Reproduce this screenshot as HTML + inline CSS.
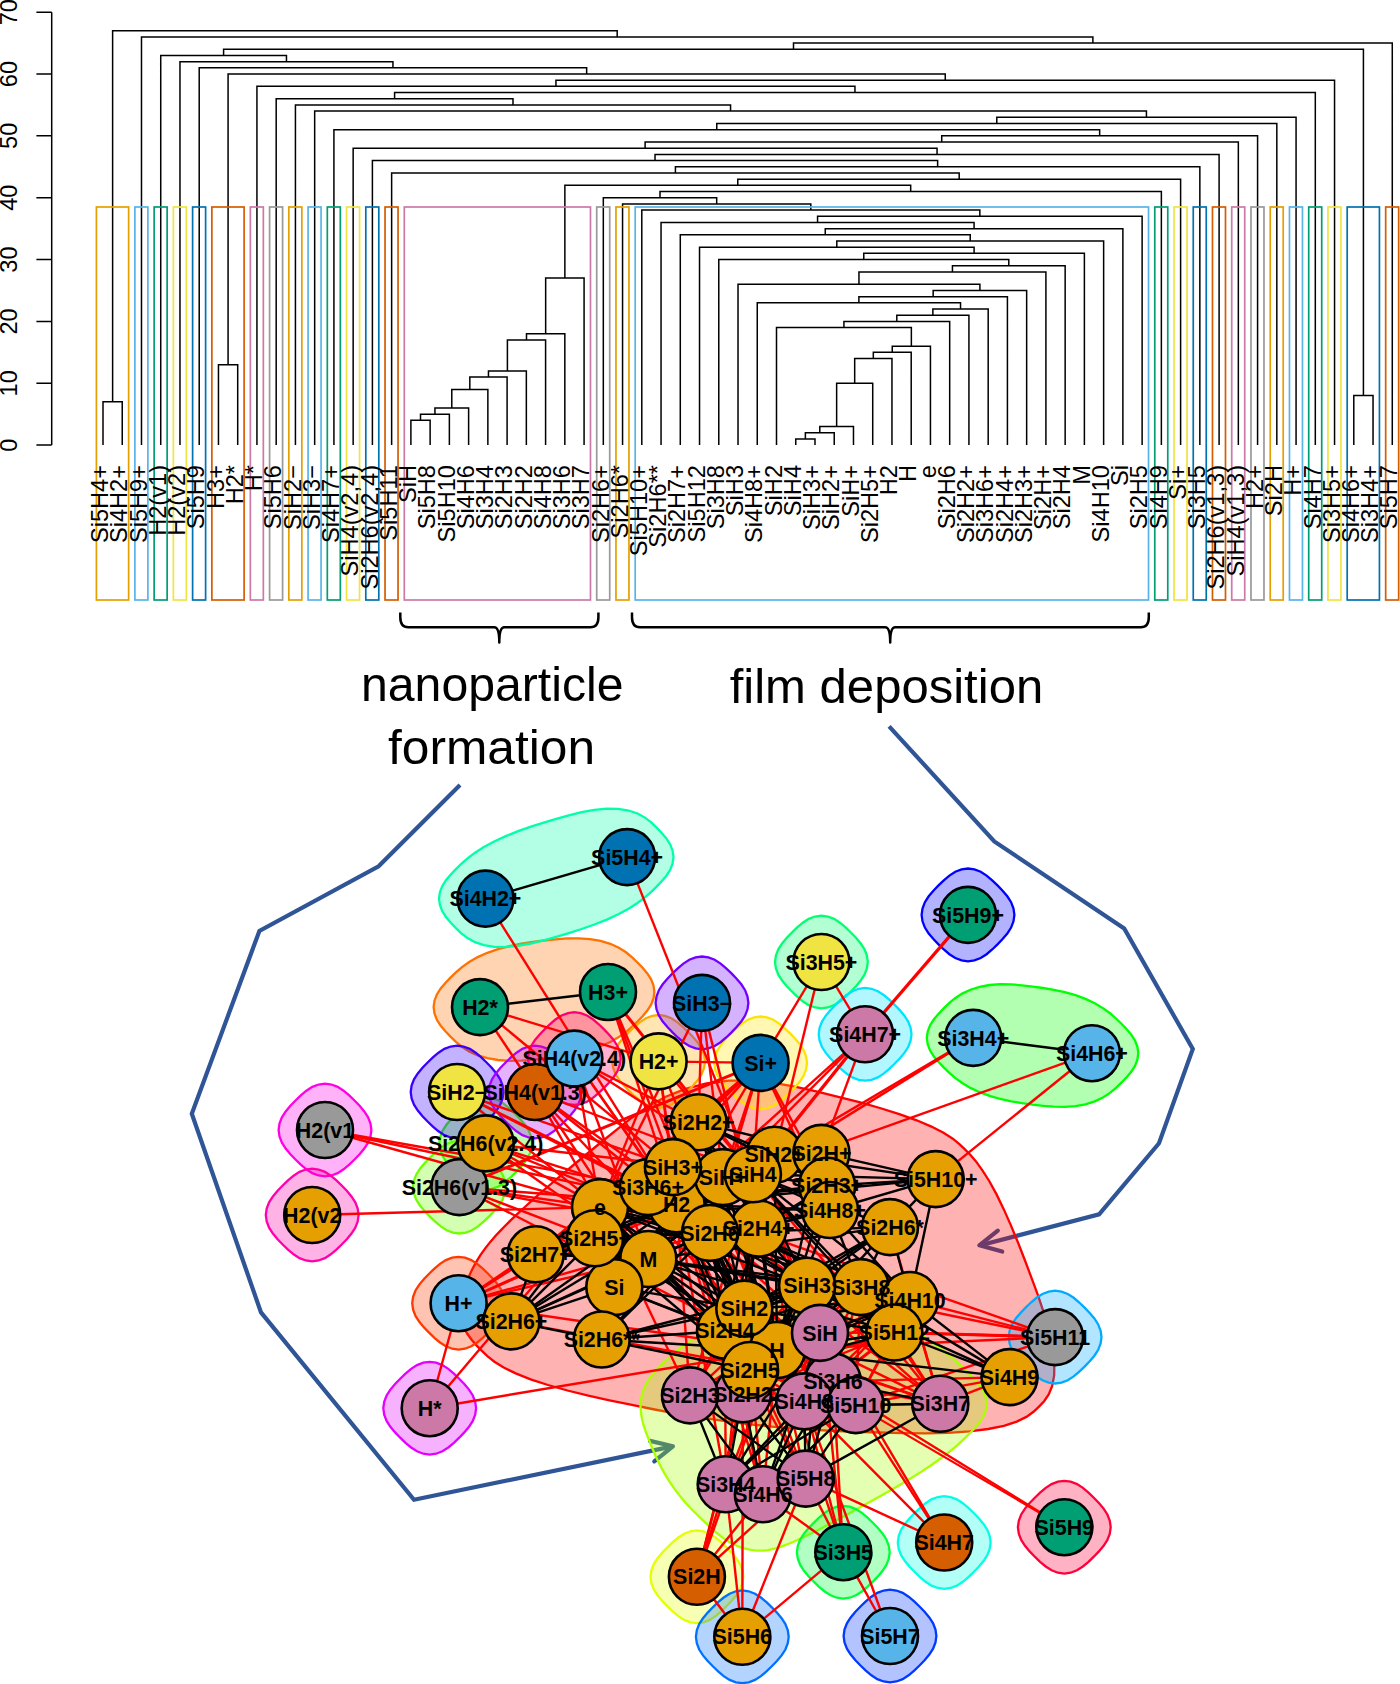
<!DOCTYPE html>
<html><head><meta charset="utf-8"><title>Figure</title>
<style>html,body{margin:0;padding:0;background:#fff}svg{display:block}</style></head>
<body>
<svg width="1400" height="1684" viewBox="0 0 1400 1684">
<rect width="1400" height="1684" fill="#fff"/>
<g fill="none" stroke="#000" stroke-width="1.5" stroke-linejoin="miter" stroke-linecap="butt">
<path d="M103.00 445.10V401.81H122.24V445.10M218.46 445.10V364.70H237.70V445.10M410.89 445.10V420.36H430.13V445.10M420.51 420.36V414.18H449.37V445.10M434.94 414.18V407.99H468.62V445.10M451.78 407.99V389.44H487.86V445.10M469.82 389.44V377.07H507.10V445.10M488.46 377.07V370.88H526.35V445.10M507.40 370.88V339.96H545.59V445.10M526.50 339.96V333.77H564.83V445.10M545.66 333.77V278.11H584.08V445.10M795.75 445.10V438.92H814.99V445.10M805.37 438.92V432.73H834.23V445.10M819.80 432.73V426.55H853.48V445.10M836.64 426.55V383.25H872.72V445.10M854.68 383.25V358.51H891.96V445.10M873.32 358.51V352.33H911.21V445.10M892.26 352.33V346.14H930.45V445.10M776.50 445.10V327.59H911.36V346.14M843.93 327.59V321.40H949.69V445.10M896.81 321.40V315.22H968.93V445.10M932.87 315.22V309.03H988.18V445.10M757.26 445.10V302.85H960.53V309.03M858.89 302.85V296.66H1007.42V445.10M933.16 296.66V290.48H1026.66V445.10M738.02 445.10V284.29H979.91V290.48M858.96 284.29V271.92H1045.91V445.10M952.44 271.92V265.74H1065.15V445.10M718.78 445.10V259.55H1008.79V265.74M863.78 259.55V253.37H1084.39V445.10M699.53 445.10V247.18H974.09V253.37M836.81 247.18V241.00H1103.64V445.10M680.29 445.10V234.81H970.22V241.00M825.26 234.81V228.63H1122.88V445.10M661.05 445.10V222.44H974.07V228.63M817.56 222.44V216.26H1142.12V445.10M641.80 445.10V210.07H979.84V216.26M622.56 445.10V203.89H810.82V210.07M603.32 445.10V197.70H716.69V203.89M660.00 197.70V191.52H1161.37V445.10M564.87 278.11V185.33H910.68V191.52M737.78 185.33V179.15H1180.61V445.10M391.64 445.10V172.96H959.19V179.15M675.42 172.96V166.78H1199.85V445.10M372.40 445.10V160.59H937.63V166.78M655.02 160.59V154.41H1219.09V445.10M353.16 445.10V148.22H937.06V154.41M645.11 148.22V142.04H1238.34V445.10M941.72 142.04V135.85H1257.58V445.10M333.92 445.10V129.67H1099.65V135.85M716.78 129.67V123.48H1276.82V445.10M996.80 123.48V117.30H1296.07V445.10M314.67 445.10V111.11H1146.43V117.30M295.43 445.10V104.93H730.55V111.11M276.19 445.10V98.74H512.99V104.93M394.59 98.74V92.56H1315.31V445.10M256.94 445.10V86.37H854.95V92.56M555.95 86.37V80.19H1334.55V445.10M228.08 364.70V74.00H945.25V80.19M199.21 445.10V67.82H586.66V74.00M179.97 445.10V61.63H392.94V67.82M160.73 445.10V55.45H286.46V61.63M1353.79 445.10V395.62H1373.04V445.10M223.59 55.45V49.26H1363.42V395.62M793.50 49.26V43.08H1392.28V445.10M141.49 445.10V36.89H1092.89V43.08M112.62 401.81V30.71H617.19V36.89"/>
<path d="M51.70 445.10V12.15M51.70 445.10H36.40M51.70 383.25H36.40M51.70 321.40H36.40M51.70 259.55H36.40M51.70 197.70H36.40M51.70 135.85H36.40M51.70 74.00H36.40M51.70 12.15H36.40"/>
</g>
<g fill="none" stroke-width="1.7">
<rect x="96.40" y="207.00" width="32.24" height="393.00" stroke="#E69F00"/>
<rect x="134.89" y="207.00" width="13.00" height="393.00" stroke="#56B4E9"/>
<rect x="154.13" y="207.00" width="13.00" height="393.00" stroke="#009E73"/>
<rect x="173.37" y="207.00" width="13.00" height="393.00" stroke="#F0E442"/>
<rect x="192.61" y="207.00" width="13.00" height="393.00" stroke="#0072B2"/>
<rect x="211.86" y="207.00" width="32.24" height="393.00" stroke="#D55E00"/>
<rect x="250.34" y="207.00" width="13.00" height="393.00" stroke="#CC79A7"/>
<rect x="269.59" y="207.00" width="13.00" height="393.00" stroke="#999999"/>
<rect x="288.83" y="207.00" width="13.00" height="393.00" stroke="#E69F00"/>
<rect x="308.07" y="207.00" width="13.00" height="393.00" stroke="#56B4E9"/>
<rect x="327.32" y="207.00" width="13.00" height="393.00" stroke="#009E73"/>
<rect x="346.56" y="207.00" width="13.00" height="393.00" stroke="#F0E442"/>
<rect x="365.80" y="207.00" width="13.00" height="393.00" stroke="#0072B2"/>
<rect x="385.04" y="207.00" width="13.00" height="393.00" stroke="#D55E00"/>
<rect x="404.29" y="207.00" width="186.19" height="393.00" stroke="#CC79A7"/>
<rect x="596.72" y="207.00" width="13.00" height="393.00" stroke="#999999"/>
<rect x="615.96" y="207.00" width="13.00" height="393.00" stroke="#E69F00"/>
<rect x="635.20" y="207.00" width="513.32" height="393.00" stroke="#56B4E9"/>
<rect x="1154.77" y="207.00" width="13.00" height="393.00" stroke="#009E73"/>
<rect x="1174.01" y="207.00" width="13.00" height="393.00" stroke="#F0E442"/>
<rect x="1193.25" y="207.00" width="13.00" height="393.00" stroke="#0072B2"/>
<rect x="1212.49" y="207.00" width="13.00" height="393.00" stroke="#D55E00"/>
<rect x="1231.74" y="207.00" width="13.00" height="393.00" stroke="#CC79A7"/>
<rect x="1250.98" y="207.00" width="13.00" height="393.00" stroke="#999999"/>
<rect x="1270.22" y="207.00" width="13.00" height="393.00" stroke="#E69F00"/>
<rect x="1289.47" y="207.00" width="13.00" height="393.00" stroke="#56B4E9"/>
<rect x="1308.71" y="207.00" width="13.00" height="393.00" stroke="#009E73"/>
<rect x="1327.95" y="207.00" width="13.00" height="393.00" stroke="#F0E442"/>
<rect x="1347.19" y="207.00" width="32.24" height="393.00" stroke="#0072B2"/>
<rect x="1385.68" y="207.00" width="13.00" height="393.00" stroke="#D55E00"/>
</g>
<g font-family="'Liberation Sans', sans-serif" font-size="23.6" fill="#000" text-anchor="end">
<text transform="translate(108.20 465.00) rotate(-90)">Si5H4+</text>
<text transform="translate(127.44 465.00) rotate(-90)">Si4H2+</text>
<text transform="translate(146.69 465.00) rotate(-90)">Si5H9+</text>
<text transform="translate(165.93 465.00) rotate(-90)">H2(v1)</text>
<text transform="translate(185.17 465.00) rotate(-90)">H2(v2)</text>
<text transform="translate(204.41 465.00) rotate(-90)">Si5H9</text>
<text transform="translate(223.66 465.00) rotate(-90)">H3+</text>
<text transform="translate(242.90 465.00) rotate(-90)">H2*</text>
<text transform="translate(262.14 465.00) rotate(-90)">H*</text>
<text transform="translate(281.39 465.00) rotate(-90)">Si5H6</text>
<text transform="translate(300.63 465.00) rotate(-90)">SiH2−</text>
<text transform="translate(319.87 465.00) rotate(-90)">SiH3−</text>
<text transform="translate(339.12 465.00) rotate(-90)">Si4H7+</text>
<text transform="translate(358.36 465.00) rotate(-90)">SiH4(v2,4)</text>
<text transform="translate(377.60 465.00) rotate(-90)">Si2H6(v2,4)</text>
<text transform="translate(396.84 465.00) rotate(-90)">Si5H11</text>
<text transform="translate(416.09 465.00) rotate(-90)">SiH</text>
<text transform="translate(435.33 465.00) rotate(-90)">Si5H8</text>
<text transform="translate(454.57 465.00) rotate(-90)">Si5H10</text>
<text transform="translate(473.82 465.00) rotate(-90)">Si4H6</text>
<text transform="translate(493.06 465.00) rotate(-90)">Si3H4</text>
<text transform="translate(512.30 465.00) rotate(-90)">Si2H3</text>
<text transform="translate(531.55 465.00) rotate(-90)">Si2H2</text>
<text transform="translate(550.79 465.00) rotate(-90)">Si4H8</text>
<text transform="translate(570.03 465.00) rotate(-90)">Si3H6</text>
<text transform="translate(589.28 465.00) rotate(-90)">Si3H7</text>
<text transform="translate(608.52 465.00) rotate(-90)">Si2H6+</text>
<text transform="translate(627.76 465.00) rotate(-90)">Si2H6*</text>
<text transform="translate(647.00 465.00) rotate(-90)">Si5H10+</text>
<text transform="translate(666.25 465.00) rotate(-90)">Si2H6**</text>
<text transform="translate(685.49 465.00) rotate(-90)">Si2H7+</text>
<text transform="translate(704.73 465.00) rotate(-90)">Si5H12</text>
<text transform="translate(723.98 465.00) rotate(-90)">Si3H8</text>
<text transform="translate(743.22 465.00) rotate(-90)">SiH3</text>
<text transform="translate(762.46 465.00) rotate(-90)">Si4H8+</text>
<text transform="translate(781.71 465.00) rotate(-90)">SiH2</text>
<text transform="translate(800.95 465.00) rotate(-90)">SiH4</text>
<text transform="translate(820.19 465.00) rotate(-90)">SiH3+</text>
<text transform="translate(839.43 465.00) rotate(-90)">SiH2+</text>
<text transform="translate(858.68 465.00) rotate(-90)">SiH+</text>
<text transform="translate(877.92 465.00) rotate(-90)">Si2H5+</text>
<text transform="translate(897.16 465.00) rotate(-90)">H2</text>
<text transform="translate(916.41 465.00) rotate(-90)">H</text>
<text transform="translate(935.65 465.00) rotate(-90)">e</text>
<text transform="translate(954.89 465.00) rotate(-90)">Si2H6</text>
<text transform="translate(974.13 465.00) rotate(-90)">Si2H2+</text>
<text transform="translate(993.38 465.00) rotate(-90)">Si3H6+</text>
<text transform="translate(1012.62 465.00) rotate(-90)">Si2H4+</text>
<text transform="translate(1031.86 465.00) rotate(-90)">Si2H3+</text>
<text transform="translate(1051.11 465.00) rotate(-90)">Si2H+</text>
<text transform="translate(1070.35 465.00) rotate(-90)">Si2H4</text>
<text transform="translate(1089.59 465.00) rotate(-90)">M</text>
<text transform="translate(1108.84 465.00) rotate(-90)">Si4H10</text>
<text transform="translate(1128.08 465.00) rotate(-90)">Si</text>
<text transform="translate(1147.32 465.00) rotate(-90)">Si2H5</text>
<text transform="translate(1166.57 465.00) rotate(-90)">Si4H9</text>
<text transform="translate(1185.81 465.00) rotate(-90)">Si+</text>
<text transform="translate(1205.05 465.00) rotate(-90)">Si3H5</text>
<text transform="translate(1224.29 465.00) rotate(-90)">Si2H6(v1,3)</text>
<text transform="translate(1243.54 465.00) rotate(-90)">SiH4(v1,3)</text>
<text transform="translate(1262.78 465.00) rotate(-90)">H2+</text>
<text transform="translate(1282.02 465.00) rotate(-90)">Si2H</text>
<text transform="translate(1301.27 465.00) rotate(-90)">H+</text>
<text transform="translate(1320.51 465.00) rotate(-90)">Si4H7</text>
<text transform="translate(1339.75 465.00) rotate(-90)">Si3H5+</text>
<text transform="translate(1358.99 465.00) rotate(-90)">Si4H6+</text>
<text transform="translate(1378.24 465.00) rotate(-90)">Si3H4+</text>
<text transform="translate(1397.48 465.00) rotate(-90)">Si5H7</text>
</g>
<g font-family="'Liberation Sans', sans-serif" font-size="23.6" fill="#000" text-anchor="middle">
<text transform="translate(16.8 445.10) rotate(-90)">0</text>
<text transform="translate(16.8 383.25) rotate(-90)">10</text>
<text transform="translate(16.8 321.40) rotate(-90)">20</text>
<text transform="translate(16.8 259.55) rotate(-90)">30</text>
<text transform="translate(16.8 197.70) rotate(-90)">40</text>
<text transform="translate(16.8 135.85) rotate(-90)">50</text>
<text transform="translate(16.8 74.00) rotate(-90)">60</text>
<text transform="translate(16.8 12.15) rotate(-90)">70</text>
</g>
<g fill="none" stroke="#000" stroke-width="2.5" stroke-linecap="butt" stroke-linejoin="round">
<path d="M400.3 612.5V617.3Q400.3 627.3 408.3 627.3H494.3Q499.3 627.3 499.3 642.5Q499.3 627.3 504.3 627.3H590.4Q598.4 627.3 598.4 617.3V612.5"/>
<path d="M632.0 612.5V617.3Q632.0 627.3 640.0 627.3H885.2Q890.2 627.3 890.2 642.5Q890.2 627.3 895.2 627.3H1140.8Q1148.8 627.3 1148.8 617.3V612.5"/>
</g>
<g font-family="'Liberation Sans', sans-serif" font-size="48" fill="#000">
<text x="361" y="700.5" textLength="262.5" lengthAdjust="spacingAndGlyphs">nanoparticle</text>
<text x="388" y="763.5" textLength="207" lengthAdjust="spacingAndGlyphs">formation</text>
<text x="729.7" y="702.7" textLength="313.5" lengthAdjust="spacingAndGlyphs">film deposition</text>
</g>
<g fill="none" stroke="#2F5597" stroke-width="4.2" stroke-linejoin="miter" stroke-linecap="butt">
<path d="M460.0 785.1L378.6 866.3L259.4 930.9L191.8 1113.7L261.0 1312.4L414.0 1499.8L671.5 1446.6"/>
<path d="M889.1 726.3L994.3 841.4L1124.2 928.4L1192.8 1049.0L1159.0 1143.3L1099.1 1214.4L980.5 1245.2"/>
<path d="M650.0 1440.9L672.9 1446.3L654.3 1461.4" stroke-linecap="round" stroke-linejoin="round"/>
<path d="M997.8 1230.6L979.3 1245.3L1002.2 1251.6" stroke-linecap="round" stroke-linejoin="round"/>
</g>
<g stroke-width="2.3">
<path d="M461.3 1320.5L460.0 1313.6L459.9 1306.8L460.8 1300.1L462.5 1293.9L464.5 1287.9L466.8 1281.8L469.3 1275.6L472.4 1268.9L476.1 1262.1L480.4 1255.2L485.2 1248.4L490.3 1241.9L495.6 1235.7L501.0 1230.1L506.2 1224.8L511.6 1219.4L518.0 1213.3L525.9 1206.0L535.5 1197.3L546.8 1187.5L559.6 1176.6L573.5 1165.0L588.0 1153.0L602.7 1141.0L617.1 1129.3L631.8 1117.7L647.8 1106.6L665.7 1096.8L685.4 1088.9L706.5 1083.5L728.7 1080.7L751.5 1080.7L774.1 1082.9L796.0 1086.8L817.2 1091.7L838.2 1096.8L859.3 1102.2L879.9 1108.0L899.3 1114.1L916.7 1120.3L931.4 1126.6L943.5 1132.8L952.8 1138.7L959.7 1144.3L965.2 1149.6L970.5 1155.0L976.2 1161.7L982.4 1170.3L989.2 1181.0L996.3 1193.9L1003.6 1208.9L1010.9 1225.4L1018.1 1242.8L1025.0 1260.5L1031.6 1278.1L1038.1 1295.7L1044.0 1313.4L1049.0 1330.8L1052.6 1347.3L1054.3 1362.3L1054.2 1375.2L1052.2 1385.9L1048.7 1394.5L1044.1 1401.2L1039.0 1406.6L1033.5 1411.8L1026.4 1416.9L1016.7 1421.6L1003.9 1425.8L988.1 1429.0L969.4 1431.4L948.3 1432.8L925.8 1433.3L902.8 1433.1L879.8 1432.5L856.5 1431.9L832.1 1430.9L806.2 1429.4L779.4 1427.3L752.2 1424.6L725.4 1421.2L699.4 1417.4L674.9 1413.3L652.1 1409.0L630.7 1404.7L609.5 1400.3L588.3 1395.7L567.5 1390.5L548.0 1385.0L530.6 1379.3L515.7 1373.4L503.7 1367.5L494.4 1361.7L487.4 1356.2L481.9 1350.9L476.7 1345.6L471.8 1340.0L467.3 1333.8L463.8 1327.3Z" fill="#FF0000" fill-opacity="0.3" stroke="#FF0000"/>
<path d="M412.2 1303.2L413.1 1296.8L415.5 1290.5L419.3 1284.6L424.0 1279.0L429.1 1273.7L434.4 1268.6L440.0 1263.9L445.9 1260.1L452.2 1257.7L458.6 1256.8L465.0 1257.7L471.3 1260.1L477.2 1263.9L482.8 1268.6L488.1 1273.7L493.2 1279.0L497.9 1284.6L501.7 1290.5L504.1 1296.8L505.0 1303.2L504.1 1309.6L501.7 1315.9L497.9 1321.8L493.2 1327.4L488.1 1332.7L482.8 1337.8L477.2 1342.5L471.3 1346.3L465.0 1348.7L458.6 1349.6L452.2 1348.7L445.9 1346.3L440.0 1342.5L434.4 1337.8L429.1 1332.7L424.0 1327.4L419.3 1321.8L415.5 1315.9L413.1 1309.6Z" fill="#FF3900" fill-opacity="0.3" stroke="#FF3900"/>
<path d="M433.6 1007.1L434.5 1000.7L436.9 994.4L440.7 988.5L445.4 982.9L450.5 977.6L455.9 972.4L462.0 967.1L469.2 962.0L477.7 957.1L487.4 952.8L498.0 949.1L509.4 946.1L521.0 943.7L532.6 942.0L544.0 940.5L555.4 939.3L567.0 938.4L578.6 938.3L590.0 939.1L600.6 940.9L610.3 943.8L618.8 947.7L626.0 952.3L632.1 957.3L637.5 962.5L642.6 967.8L647.3 973.4L651.1 979.3L653.5 985.6L654.4 992.0L653.5 998.4L651.1 1004.7L647.3 1010.6L642.6 1016.2L637.5 1021.5L632.1 1026.7L626.0 1032.0L618.8 1037.1L610.3 1042.0L600.6 1046.3L590.0 1050.0L578.6 1053.0L567.0 1055.4L555.4 1057.1L544.0 1058.5L532.6 1059.8L521.0 1060.7L509.4 1060.8L498.0 1060.0L487.4 1058.2L477.7 1055.3L469.2 1051.4L462.0 1046.8L455.9 1041.8L450.5 1036.6L445.4 1031.3L440.7 1025.7L436.9 1019.8L434.5 1013.5Z" fill="#FF7100" fill-opacity="0.3" stroke="#FF7100"/>
<path d="M612.2 1061.4L613.1 1055.0L615.5 1048.7L619.3 1042.8L624.0 1037.2L629.1 1031.9L634.4 1026.8L640.0 1022.1L645.9 1018.3L652.2 1015.9L658.6 1015.0L665.0 1015.9L671.3 1018.3L677.2 1022.1L682.8 1026.8L688.1 1031.9L693.2 1037.2L697.9 1042.8L701.7 1048.7L704.1 1055.0L705.0 1061.4L704.1 1067.8L701.7 1074.1L697.9 1080.0L693.2 1085.6L688.1 1090.9L682.8 1096.0L677.2 1100.7L671.3 1104.5L665.0 1106.9L658.6 1107.8L652.2 1106.9L645.9 1104.5L640.0 1100.7L634.4 1096.0L629.1 1090.9L624.0 1085.6L619.3 1080.0L615.5 1074.1L613.1 1067.8Z" fill="#FFAA00" fill-opacity="0.3" stroke="#FFAA00"/>
<path d="M714.2 1062.9L715.1 1056.5L717.5 1050.2L721.3 1044.3L726.0 1038.7L731.1 1033.4L736.4 1028.3L742.0 1023.6L747.9 1019.8L754.2 1017.4L760.6 1016.5L767.0 1017.4L773.3 1019.8L779.2 1023.6L784.8 1028.3L790.1 1033.4L795.2 1038.7L799.9 1044.3L803.7 1050.2L806.1 1056.5L807.0 1062.9L806.1 1069.3L803.7 1075.6L799.9 1081.5L795.2 1087.1L790.1 1092.4L784.8 1097.5L779.2 1102.2L773.3 1106.0L767.0 1108.4L760.6 1109.3L754.2 1108.4L747.9 1106.0L742.0 1102.2L736.4 1097.5L731.1 1092.4L726.0 1087.1L721.3 1081.5L717.5 1075.6L715.1 1069.3Z" fill="#FFE300" fill-opacity="0.3" stroke="#FFE300"/>
<path d="M650.5 1576.8L651.4 1570.4L653.8 1564.1L657.6 1558.2L662.3 1552.6L667.4 1547.3L672.7 1542.2L678.3 1537.5L684.2 1533.7L690.5 1531.3L696.9 1530.4L703.3 1531.3L709.6 1533.7L715.5 1537.5L721.1 1542.2L726.4 1547.3L731.5 1552.6L736.2 1558.2L740.0 1564.1L742.4 1570.4L743.3 1576.8L742.4 1583.2L740.0 1589.5L736.2 1595.4L731.5 1601.0L726.4 1606.3L721.1 1611.4L715.5 1616.1L709.6 1619.9L703.3 1622.3L696.9 1623.2L690.5 1622.3L684.2 1619.9L678.3 1616.1L672.7 1611.4L667.4 1606.3L662.3 1601.0L657.6 1595.4L653.8 1589.5L651.4 1583.2Z" fill="#E3FF00" fill-opacity="0.3" stroke="#E3FF00"/>
<path d="M641.1 1398.6L643.1 1390.8L646.3 1383.6L650.5 1377.0L655.3 1371.2L660.5 1365.9L665.9 1360.6L672.0 1355.0L679.3 1349.0L687.8 1342.6L697.6 1336.0L708.3 1329.4L719.8 1322.9L731.7 1316.6L743.4 1310.7L755.0 1305.2L766.6 1299.7L778.9 1294.8L791.8 1291.0L805.3 1288.7L819.0 1288.1L832.5 1289.6L845.5 1292.8L857.9 1297.5L869.4 1303.2L880.2 1309.3L890.9 1315.7L901.8 1322.3L912.8 1329.3L923.6 1336.4L933.8 1343.5L943.0 1350.5L951.3 1357.1L958.4 1363.3L964.4 1369.0L969.8 1374.3L974.9 1379.6L979.6 1385.2L983.4 1391.1L985.8 1397.4L986.7 1403.8L985.8 1410.2L983.4 1416.5L979.6 1422.4L974.9 1428.0L969.8 1433.3L964.4 1438.6L958.3 1444.3L950.9 1450.6L942.2 1457.3L932.2 1464.5L921.2 1471.9L909.3 1479.3L897.1 1486.6L885.0 1493.5L873.0 1500.2L861.0 1506.8L849.0 1513.5L837.1 1519.9L825.8 1526.0L815.5 1531.3L806.5 1535.8L799.0 1539.3L793.0 1542.0L788.2 1544.0L784.3 1545.4L780.5 1546.8L776.5 1548.1L772.2 1549.2L767.9 1550.1L763.5 1550.6L759.2 1550.7L755.1 1550.4L751.2 1549.9L747.6 1549.2L744.3 1548.3L740.9 1547.3L737.3 1546.0L733.1 1544.1L728.4 1541.5L723.4 1538.1L718.0 1534.0L712.4 1529.3L706.9 1524.2L701.5 1519.0L696.2 1513.8L690.9 1508.5L685.5 1502.7L680.0 1496.1L674.5 1488.9L669.2 1481.1L664.2 1472.9L659.7 1464.4L655.6 1456.0L652.1 1447.8L648.9 1439.8L645.8 1431.9L643.1 1423.7L641.3 1415.3L640.5 1406.8Z" fill="#AAFF00" fill-opacity="0.3" stroke="#AAFF00"/>
<path d="M413.0 1187.1L413.9 1180.7L416.3 1174.4L420.1 1168.5L424.8 1162.9L429.9 1157.6L435.2 1152.5L440.8 1147.8L446.7 1144.0L453.0 1141.6L459.4 1140.7L465.8 1141.6L472.1 1144.0L478.0 1147.8L483.6 1152.5L488.9 1157.6L494.0 1162.9L498.7 1168.5L502.5 1174.4L504.9 1180.7L505.8 1187.1L504.9 1193.5L502.5 1199.8L498.7 1205.7L494.0 1211.3L488.9 1216.6L483.6 1221.7L478.0 1226.4L472.1 1230.2L465.8 1232.6L459.4 1233.5L453.0 1232.6L446.7 1230.2L440.8 1226.4L435.2 1221.7L429.9 1216.6L424.8 1211.3L420.1 1205.7L416.3 1199.8L413.9 1193.5Z" fill="#71FF00" fill-opacity="0.3" stroke="#71FF00"/>
<path d="M439.3 1143.4L440.2 1137.0L442.6 1130.7L446.4 1124.8L451.1 1119.2L456.2 1113.9L461.5 1108.8L467.1 1104.1L473.0 1100.3L479.3 1097.9L485.7 1097.0L492.1 1097.9L498.4 1100.3L504.3 1104.1L509.9 1108.8L515.2 1113.9L520.3 1119.2L525.0 1124.8L528.8 1130.7L531.2 1137.0L532.1 1143.4L531.2 1149.8L528.8 1156.1L525.0 1162.0L520.3 1167.6L515.2 1172.9L509.9 1178.0L504.3 1182.7L498.4 1186.5L492.1 1188.9L485.7 1189.8L479.3 1188.9L473.0 1186.5L467.1 1182.7L461.5 1178.0L456.2 1172.9L451.1 1167.6L446.4 1162.0L442.6 1156.1L440.2 1149.8Z" fill="#39FF00" fill-opacity="0.3" stroke="#39FF00"/>
<path d="M926.8 1037.9L927.7 1031.5L930.1 1025.2L933.9 1019.3L938.6 1013.7L943.7 1008.4L949.1 1003.2L955.1 998.2L962.2 993.6L970.4 989.7L979.6 986.8L989.6 985.0L1000.3 984.2L1011.2 984.4L1022.0 985.3L1032.6 986.6L1043.1 988.0L1053.9 989.8L1064.8 992.1L1075.5 995.2L1085.5 998.9L1094.7 1003.2L1102.9 1008.1L1110.0 1013.2L1116.0 1018.5L1121.4 1023.7L1126.5 1029.0L1131.2 1034.6L1135.0 1040.5L1137.4 1046.8L1138.3 1053.2L1137.4 1059.6L1135.0 1065.9L1131.2 1071.8L1126.5 1077.4L1121.4 1082.7L1116.0 1087.9L1110.0 1092.9L1102.9 1097.5L1094.7 1101.4L1085.5 1104.3L1075.5 1106.1L1064.8 1106.9L1053.9 1106.7L1043.1 1105.8L1032.6 1104.6L1022.0 1103.1L1011.2 1101.3L1000.3 1099.0L989.6 1095.9L979.6 1092.2L970.4 1087.9L962.2 1083.0L955.1 1077.9L949.1 1072.6L943.7 1067.4L938.6 1062.1L933.9 1056.5L930.1 1050.6L927.7 1044.3Z" fill="#00FF00" fill-opacity="0.3" stroke="#00FF00"/>
<path d="M796.9 1552.2L797.8 1545.8L800.2 1539.5L804.0 1533.6L808.7 1528.0L813.8 1522.7L819.1 1517.6L824.7 1512.9L830.6 1509.1L836.9 1506.7L843.3 1505.8L849.7 1506.7L856.0 1509.1L861.9 1512.9L867.5 1517.6L872.8 1522.7L877.9 1528.0L882.6 1533.6L886.4 1539.5L888.8 1545.8L889.7 1552.2L888.8 1558.6L886.4 1564.9L882.6 1570.8L877.9 1576.4L872.8 1581.7L867.5 1586.8L861.9 1591.5L856.0 1595.3L849.7 1597.7L843.3 1598.6L836.9 1597.7L830.6 1595.3L824.7 1591.5L819.1 1586.8L813.8 1581.7L808.7 1576.4L804.0 1570.8L800.2 1564.9L797.8 1558.6Z" fill="#00FF39" fill-opacity="0.3" stroke="#00FF39"/>
<path d="M775.0 962.0L775.9 955.6L778.3 949.3L782.1 943.4L786.8 937.8L791.9 932.5L797.2 927.4L802.8 922.7L808.7 918.9L815.0 916.5L821.4 915.6L827.8 916.5L834.1 918.9L840.0 922.7L845.6 927.4L850.9 932.5L856.0 937.8L860.7 943.4L864.5 949.3L866.9 955.6L867.8 962.0L866.9 968.4L864.5 974.7L860.7 980.6L856.0 986.2L850.9 991.5L845.6 996.6L840.0 1001.3L834.1 1005.1L827.8 1007.5L821.4 1008.4L815.0 1007.5L808.7 1005.1L802.8 1001.3L797.2 996.6L791.9 991.5L786.8 986.2L782.1 980.6L778.3 974.7L775.9 968.4Z" fill="#00FF71" fill-opacity="0.3" stroke="#00FF71"/>
<path d="M439.0 898.6L439.9 892.2L442.3 885.9L446.1 880.0L450.8 874.4L455.9 869.1L461.3 863.8L467.5 858.4L475.0 852.7L483.9 847.0L494.2 841.5L505.7 836.1L518.1 831.2L530.9 826.7L543.7 822.6L556.2 818.9L568.8 815.3L581.6 812.1L594.4 809.8L606.8 808.6L618.3 808.8L628.6 810.5L637.5 813.5L645.0 817.6L651.2 822.4L656.6 827.6L661.7 832.9L666.4 838.5L670.2 844.4L672.6 850.7L673.5 857.1L672.6 863.5L670.2 869.8L666.4 875.7L661.7 881.3L656.6 886.6L651.2 891.9L645.0 897.3L637.5 903.0L628.6 908.7L618.3 914.2L606.8 919.6L594.4 924.5L581.6 929.0L568.8 933.1L556.2 936.9L543.7 940.4L530.9 943.6L518.1 945.9L505.7 947.1L494.2 946.9L483.9 945.2L475.0 942.2L467.5 938.1L461.3 933.3L455.9 928.1L450.8 922.8L446.1 917.2L442.3 911.3L439.9 905.0Z" fill="#00FFAA" fill-opacity="0.3" stroke="#00FFAA"/>
<path d="M897.8 1542.5L898.7 1536.1L901.1 1529.8L904.9 1523.9L909.6 1518.3L914.7 1513.0L920.0 1507.9L925.6 1503.2L931.5 1499.4L937.8 1497.0L944.2 1496.1L950.6 1497.0L956.9 1499.4L962.8 1503.2L968.4 1507.9L973.7 1513.0L978.8 1518.3L983.5 1523.9L987.3 1529.8L989.7 1536.1L990.6 1542.5L989.7 1548.9L987.3 1555.2L983.5 1561.1L978.8 1566.7L973.7 1572.0L968.4 1577.1L962.8 1581.8L956.9 1585.6L950.6 1588.0L944.2 1588.9L937.8 1588.0L931.5 1585.6L925.6 1581.8L920.0 1577.1L914.7 1572.0L909.6 1566.7L904.9 1561.1L901.1 1555.2L898.7 1548.9Z" fill="#00FFE3" fill-opacity="0.3" stroke="#00FFE3"/>
<path d="M818.7 1034.3L819.6 1027.9L822.0 1021.6L825.8 1015.7L830.5 1010.1L835.6 1004.8L840.9 999.7L846.5 995.0L852.4 991.2L858.7 988.8L865.1 987.9L871.5 988.8L877.8 991.2L883.7 995.0L889.3 999.7L894.6 1004.8L899.7 1010.1L904.4 1015.7L908.2 1021.6L910.6 1027.9L911.5 1034.3L910.6 1040.7L908.2 1047.0L904.4 1052.9L899.7 1058.5L894.6 1063.8L889.3 1068.9L883.7 1073.6L877.8 1077.4L871.5 1079.8L865.1 1080.7L858.7 1079.8L852.4 1077.4L846.5 1073.6L840.9 1068.9L835.6 1063.8L830.5 1058.5L825.8 1052.9L822.0 1047.0L819.6 1040.7Z" fill="#00E3FF" fill-opacity="0.3" stroke="#00E3FF"/>
<path d="M1008.7 1337.1L1009.6 1330.7L1012.0 1324.4L1015.8 1318.5L1020.5 1312.9L1025.6 1307.6L1030.9 1302.5L1036.5 1297.8L1042.4 1294.0L1048.7 1291.6L1055.1 1290.7L1061.5 1291.6L1067.8 1294.0L1073.7 1297.8L1079.3 1302.5L1084.6 1307.6L1089.7 1312.9L1094.4 1318.5L1098.2 1324.4L1100.6 1330.7L1101.5 1337.1L1100.6 1343.5L1098.2 1349.8L1094.4 1355.7L1089.7 1361.3L1084.6 1366.6L1079.3 1371.7L1073.7 1376.4L1067.8 1380.2L1061.5 1382.6L1055.1 1383.5L1048.7 1382.6L1042.4 1380.2L1036.5 1376.4L1030.9 1371.7L1025.6 1366.6L1020.5 1361.3L1015.8 1355.7L1012.0 1349.8L1009.6 1343.5Z" fill="#00AAFF" fill-opacity="0.3" stroke="#00AAFF"/>
<path d="M695.9 1636.8L696.8 1630.4L699.2 1624.1L703.0 1618.2L707.7 1612.6L712.8 1607.3L718.1 1602.2L723.7 1597.5L729.6 1593.7L735.9 1591.3L742.3 1590.4L748.7 1591.3L755.0 1593.7L760.9 1597.5L766.5 1602.2L771.8 1607.3L776.9 1612.6L781.6 1618.2L785.4 1624.1L787.8 1630.4L788.7 1636.8L787.8 1643.2L785.4 1649.5L781.6 1655.4L776.9 1661.0L771.8 1666.3L766.5 1671.4L760.9 1676.1L755.0 1679.9L748.7 1682.3L742.3 1683.2L735.9 1682.3L729.6 1679.9L723.7 1676.1L718.1 1671.4L712.8 1666.3L707.7 1661.0L703.0 1655.4L699.2 1649.5L696.8 1643.2Z" fill="#0071FF" fill-opacity="0.3" stroke="#0071FF"/>
<path d="M843.6 1636.0L844.5 1629.6L846.9 1623.3L850.7 1617.4L855.4 1611.8L860.5 1606.5L865.8 1601.4L871.4 1596.7L877.3 1592.9L883.6 1590.5L890.0 1589.6L896.4 1590.5L902.7 1592.9L908.6 1596.7L914.2 1601.4L919.5 1606.5L924.6 1611.8L929.3 1617.4L933.1 1623.3L935.5 1629.6L936.4 1636.0L935.5 1642.4L933.1 1648.7L929.3 1654.6L924.6 1660.2L919.5 1665.5L914.2 1670.6L908.6 1675.3L902.7 1679.1L896.4 1681.5L890.0 1682.4L883.6 1681.5L877.3 1679.1L871.4 1675.3L865.8 1670.6L860.5 1665.5L855.4 1660.2L850.7 1654.6L846.9 1648.7L844.5 1642.4Z" fill="#0039FF" fill-opacity="0.3" stroke="#0039FF"/>
<path d="M921.6 914.9L922.5 908.5L924.9 902.2L928.7 896.3L933.4 890.7L938.5 885.4L943.8 880.3L949.4 875.6L955.3 871.8L961.6 869.4L968.0 868.5L974.4 869.4L980.7 871.8L986.6 875.6L992.2 880.3L997.5 885.4L1002.6 890.7L1007.3 896.3L1011.1 902.2L1013.5 908.5L1014.4 914.9L1013.5 921.3L1011.1 927.6L1007.3 933.5L1002.6 939.1L997.5 944.4L992.2 949.5L986.6 954.2L980.7 958.0L974.4 960.4L968.0 961.3L961.6 960.4L955.3 958.0L949.4 954.2L943.8 949.5L938.5 944.4L933.4 939.1L928.7 933.5L924.9 927.6L922.5 921.3Z" fill="#0000FF" fill-opacity="0.3" stroke="#0000FF"/>
<path d="M410.7 1092.0L411.6 1085.6L414.0 1079.3L417.8 1073.4L422.5 1067.8L427.6 1062.5L432.9 1057.4L438.5 1052.7L444.4 1048.9L450.7 1046.5L457.1 1045.6L463.5 1046.5L469.8 1048.9L475.7 1052.7L481.3 1057.4L486.6 1062.5L491.7 1067.8L496.4 1073.4L500.2 1079.3L502.6 1085.6L503.5 1092.0L502.6 1098.4L500.2 1104.7L496.4 1110.6L491.7 1116.2L486.6 1121.5L481.3 1126.6L475.7 1131.3L469.8 1135.1L463.5 1137.5L457.1 1138.4L450.7 1137.5L444.4 1135.1L438.5 1131.3L432.9 1126.6L427.6 1121.5L422.5 1116.2L417.8 1110.6L414.0 1104.7L411.6 1098.4Z" fill="#3900FF" fill-opacity="0.3" stroke="#3900FF"/>
<path d="M655.6 1002.9L656.5 996.5L658.9 990.2L662.7 984.3L667.4 978.7L672.5 973.4L677.8 968.3L683.4 963.6L689.3 959.8L695.6 957.4L702.0 956.5L708.4 957.4L714.7 959.8L720.6 963.6L726.2 968.3L731.5 973.4L736.6 978.7L741.3 984.3L745.1 990.2L747.5 996.5L748.4 1002.9L747.5 1009.3L745.1 1015.6L741.3 1021.5L736.6 1027.1L731.5 1032.4L726.2 1037.5L720.6 1042.2L714.7 1046.0L708.4 1048.4L702.0 1049.3L695.6 1048.4L689.3 1046.0L683.4 1042.2L677.8 1037.5L672.5 1032.4L667.4 1027.1L662.7 1021.5L658.9 1015.6L656.5 1009.3Z" fill="#7100FF" fill-opacity="0.3" stroke="#7100FF"/>
<path d="M488.7 1092.0L489.6 1085.6L492.0 1079.3L495.8 1073.4L500.5 1067.8L505.6 1062.5L510.9 1057.4L516.5 1052.7L522.4 1048.9L528.7 1046.5L535.1 1045.6L541.5 1046.5L547.8 1048.9L553.7 1052.7L559.3 1057.4L564.6 1062.5L569.7 1067.8L574.4 1073.4L578.2 1079.3L580.6 1085.6L581.5 1092.0L580.6 1098.4L578.2 1104.7L574.4 1110.6L569.7 1116.2L564.6 1121.5L559.3 1126.6L553.7 1131.3L547.8 1135.1L541.5 1137.5L535.1 1138.4L528.7 1137.5L522.4 1135.1L516.5 1131.3L510.9 1126.6L505.6 1121.5L500.5 1116.2L495.8 1110.6L492.0 1104.7L489.6 1098.4Z" fill="#AA00FF" fill-opacity="0.3" stroke="#AA00FF"/>
<path d="M383.3 1408.2L384.2 1401.8L386.6 1395.5L390.4 1389.6L395.1 1384.0L400.2 1378.7L405.5 1373.6L411.1 1368.9L417.0 1365.1L423.3 1362.7L429.7 1361.8L436.1 1362.7L442.4 1365.1L448.3 1368.9L453.9 1373.6L459.2 1378.7L464.3 1384.0L469.0 1389.6L472.8 1395.5L475.2 1401.8L476.1 1408.2L475.2 1414.6L472.8 1420.9L469.0 1426.8L464.3 1432.4L459.2 1437.7L453.9 1442.8L448.3 1447.5L442.4 1451.3L436.1 1453.7L429.7 1454.6L423.3 1453.7L417.0 1451.3L411.1 1447.5L405.5 1442.8L400.2 1437.7L395.1 1432.4L390.4 1426.8L386.6 1420.9L384.2 1414.6Z" fill="#E300FF" fill-opacity="0.3" stroke="#E300FF"/>
<path d="M278.6 1130.0L279.5 1123.6L281.9 1117.3L285.7 1111.4L290.4 1105.8L295.5 1100.5L300.8 1095.4L306.4 1090.7L312.3 1086.9L318.6 1084.5L325.0 1083.6L331.4 1084.5L337.7 1086.9L343.6 1090.7L349.2 1095.4L354.5 1100.5L359.6 1105.8L364.3 1111.4L368.1 1117.3L370.5 1123.6L371.4 1130.0L370.5 1136.4L368.1 1142.7L364.3 1148.6L359.6 1154.2L354.5 1159.5L349.2 1164.6L343.6 1169.3L337.7 1173.1L331.4 1175.5L325.0 1176.4L318.6 1175.5L312.3 1173.1L306.4 1169.3L300.8 1164.6L295.5 1159.5L290.4 1154.2L285.7 1148.6L281.9 1142.7L279.5 1136.4Z" fill="#FF00E3" fill-opacity="0.3" stroke="#FF00E3"/>
<path d="M265.8 1215.0L266.7 1208.6L269.1 1202.3L272.9 1196.4L277.6 1190.8L282.7 1185.5L288.0 1180.4L293.6 1175.7L299.5 1171.9L305.8 1169.5L312.2 1168.6L318.6 1169.5L324.9 1171.9L330.8 1175.7L336.4 1180.4L341.7 1185.5L346.8 1190.8L351.5 1196.4L355.3 1202.3L357.7 1208.6L358.6 1215.0L357.7 1221.4L355.3 1227.7L351.5 1233.6L346.8 1239.2L341.7 1244.5L336.4 1249.6L330.8 1254.3L324.9 1258.1L318.6 1260.5L312.2 1261.4L305.8 1260.5L299.5 1258.1L293.6 1254.3L288.0 1249.6L282.7 1244.5L277.6 1239.2L272.9 1233.6L269.1 1227.7L266.7 1221.4Z" fill="#FF00AA" fill-opacity="0.3" stroke="#FF00AA"/>
<path d="M527.9 1058.6L528.8 1052.2L531.2 1045.9L535.0 1040.0L539.7 1034.4L544.8 1029.1L550.1 1024.0L555.7 1019.3L561.6 1015.5L567.9 1013.1L574.3 1012.2L580.7 1013.1L587.0 1015.5L592.9 1019.3L598.5 1024.0L603.8 1029.1L608.9 1034.4L613.6 1040.0L617.4 1045.9L619.8 1052.2L620.7 1058.6L619.8 1065.0L617.4 1071.3L613.6 1077.2L608.9 1082.8L603.8 1088.1L598.5 1093.2L592.9 1097.9L587.0 1101.7L580.7 1104.1L574.3 1105.0L567.9 1104.1L561.6 1101.7L555.7 1097.9L550.1 1093.2L544.8 1088.1L539.7 1082.8L535.0 1077.2L531.2 1071.3L528.8 1065.0Z" fill="#FF0071" fill-opacity="0.3" stroke="#FF0071"/>
<path d="M1017.9 1527.2L1018.8 1520.8L1021.2 1514.5L1025.0 1508.6L1029.7 1503.0L1034.8 1497.7L1040.1 1492.6L1045.7 1487.9L1051.6 1484.1L1057.9 1481.7L1064.3 1480.8L1070.7 1481.7L1077.0 1484.1L1082.9 1487.9L1088.5 1492.6L1093.8 1497.7L1098.9 1503.0L1103.6 1508.6L1107.4 1514.5L1109.8 1520.8L1110.7 1527.2L1109.8 1533.6L1107.4 1539.9L1103.6 1545.8L1098.9 1551.4L1093.8 1556.7L1088.5 1561.8L1082.9 1566.5L1077.0 1570.3L1070.7 1572.7L1064.3 1573.6L1057.9 1572.7L1051.6 1570.3L1045.7 1566.5L1040.1 1561.8L1034.8 1556.7L1029.7 1551.4L1025.0 1545.8L1021.2 1539.9L1018.8 1533.6Z" fill="#FF0039" fill-opacity="0.3" stroke="#FF0039"/>
</g>
<g fill="none" stroke-linecap="butt">
<path d="M627.1 857.1L752.9 1174.3" stroke="#FF0000" stroke-width="2.4"/>
<path d="M485.4 898.6L676.6 1204.3" stroke="#FF0000" stroke-width="2.4"/>
<path d="M480.0 1007.1L658.6 1061.4" stroke="#FF0000" stroke-width="2.4"/>
<path d="M480.0 1007.1L672.9 1167.1" stroke="#FF0000" stroke-width="2.4"/>
<path d="M480.0 1007.1L648.3 1259.0" stroke="#FF0000" stroke-width="2.4"/>
<path d="M608.0 992.0L672.9 1167.1" stroke="#FF0000" stroke-width="2.4"/>
<path d="M608.0 992.0L676.6 1204.3" stroke="#FF0000" stroke-width="2.4"/>
<path d="M608.0 992.0L710.0 1232.9" stroke="#FF0000" stroke-width="2.4"/>
<path d="M608.0 992.0L752.9 1174.3" stroke="#FF0000" stroke-width="3"/>
<path d="M702.0 1002.9L600.0 1207.1" stroke="#FF0000" stroke-width="2.4"/>
<path d="M702.0 1002.9L722.9 1177.1" stroke="#FF0000" stroke-width="2.4"/>
<path d="M702.0 1002.9L698.6 1122.3" stroke="#FF0000" stroke-width="2.4"/>
<path d="M702.0 1002.9L758.6 1228.6" stroke="#FF0000" stroke-width="2.4"/>
<path d="M658.6 1061.4L760.6 1062.9" stroke="#FF0000" stroke-width="2.4"/>
<path d="M658.6 1061.4L676.6 1204.3" stroke="#FF0000" stroke-width="2.4"/>
<path d="M658.6 1061.4L752.9 1174.3" stroke="#FF0000" stroke-width="2.4"/>
<path d="M658.6 1061.4L777.1 1350.0" stroke="#FF0000" stroke-width="2.4"/>
<path d="M658.6 1061.4L600.0 1207.1" stroke="#FF0000" stroke-width="2.4"/>
<path d="M658.6 1061.4L672.9 1167.1" stroke="#FF0000" stroke-width="2.4"/>
<path d="M760.6 1062.9L752.9 1174.3" stroke="#FF0000" stroke-width="2.4"/>
<path d="M760.6 1062.9L676.6 1204.3" stroke="#FF0000" stroke-width="2.4"/>
<path d="M760.6 1062.9L698.6 1122.3" stroke="#FF0000" stroke-width="2.4"/>
<path d="M760.6 1062.9L600.0 1207.1" stroke="#FF0000" stroke-width="2.4"/>
<path d="M760.6 1062.9L722.9 1177.1" stroke="#FF0000" stroke-width="2.4"/>
<path d="M760.6 1062.9L710.0 1232.9" stroke="#FF0000" stroke-width="2.4"/>
<path d="M760.6 1062.9L535.7 1254.3" stroke="#FF0000" stroke-width="2.4"/>
<path d="M760.6 1062.9L648.0 1187.1" stroke="#FF0000" stroke-width="2.4"/>
<path d="M760.6 1062.9L827.1 1185.7" stroke="#FF0000" stroke-width="2.4"/>
<path d="M760.6 1062.9L830.0 1210.0" stroke="#FF0000" stroke-width="2.4"/>
<path d="M760.6 1062.9L459.4 1187.1" stroke="#FF0000" stroke-width="3"/>
<path d="M574.3 1058.6L752.9 1174.3" stroke="#FF0000" stroke-width="2.4"/>
<path d="M574.3 1058.6L600.0 1207.1" stroke="#FF0000" stroke-width="2.4"/>
<path d="M574.3 1058.6L676.6 1204.3" stroke="#FF0000" stroke-width="2.4"/>
<path d="M574.3 1058.6L777.1 1350.0" stroke="#FF0000" stroke-width="2.4"/>
<path d="M574.3 1058.6L698.6 1122.3" stroke="#FF0000" stroke-width="2.4"/>
<path d="M574.3 1058.6L648.3 1259.0" stroke="#FF0000" stroke-width="2.4"/>
<path d="M535.1 1092.0L752.9 1174.3" stroke="#FF0000" stroke-width="2.4"/>
<path d="M535.1 1092.0L600.0 1207.1" stroke="#FF0000" stroke-width="2.4"/>
<path d="M535.1 1092.0L676.6 1204.3" stroke="#FF0000" stroke-width="2.4"/>
<path d="M535.1 1092.0L777.1 1350.0" stroke="#FF0000" stroke-width="2.4"/>
<path d="M535.1 1092.0L807.1 1285.7" stroke="#FF0000" stroke-width="2.4"/>
<path d="M457.1 1092.0L600.0 1207.1" stroke="#FF0000" stroke-width="2.4"/>
<path d="M457.1 1092.0L672.9 1167.1" stroke="#FF0000" stroke-width="2.4"/>
<path d="M457.1 1092.0L648.0 1187.1" stroke="#FF0000" stroke-width="2.4"/>
<path d="M457.1 1092.0L676.6 1204.3" stroke="#FF0000" stroke-width="2.4"/>
<path d="M485.7 1143.4L710.0 1232.9" stroke="#FF0000" stroke-width="2.4"/>
<path d="M485.7 1143.4L600.0 1207.1" stroke="#FF0000" stroke-width="2.4"/>
<path d="M485.7 1143.4L676.6 1204.3" stroke="#FF0000" stroke-width="2.4"/>
<path d="M485.7 1143.4L777.1 1350.0" stroke="#FF0000" stroke-width="2.4"/>
<path d="M485.7 1143.4L752.9 1174.3" stroke="#FF0000" stroke-width="2.4"/>
<path d="M459.4 1187.1L710.0 1232.9" stroke="#FF0000" stroke-width="2.4"/>
<path d="M459.4 1187.1L600.0 1207.1" stroke="#FF0000" stroke-width="2.4"/>
<path d="M459.4 1187.1L676.6 1204.3" stroke="#FF0000" stroke-width="2.4"/>
<path d="M459.4 1187.1L777.1 1350.0" stroke="#FF0000" stroke-width="2.4"/>
<path d="M459.4 1187.1L648.3 1259.0" stroke="#FF0000" stroke-width="2.4"/>
<path d="M325.0 1130.0L600.0 1207.1" stroke="#FF0000" stroke-width="2.4"/>
<path d="M325.0 1130.0L676.6 1204.3" stroke="#FF0000" stroke-width="2.4"/>
<path d="M325.0 1130.0L648.0 1187.1" stroke="#FF0000" stroke-width="2.4"/>
<path d="M312.2 1215.0L600.0 1207.1" stroke="#FF0000" stroke-width="2.4"/>
<path d="M458.6 1303.2L600.0 1207.1" stroke="#FF0000" stroke-width="2.4"/>
<path d="M458.6 1303.2L676.6 1204.3" stroke="#FF0000" stroke-width="2.4"/>
<path d="M458.6 1303.2L752.9 1174.3" stroke="#FF0000" stroke-width="2.4"/>
<path d="M458.6 1303.2L777.1 1350.0" stroke="#FF0000" stroke-width="2.4"/>
<path d="M458.6 1303.2L710.0 1232.9" stroke="#FF0000" stroke-width="2.4"/>
<path d="M458.6 1303.2L429.7 1408.2" stroke="#FF0000" stroke-width="2.4"/>
<path d="M458.6 1303.2L672.9 1167.1" stroke="#FF0000" stroke-width="2.4"/>
<path d="M458.6 1303.2L648.3 1259.0" stroke="#FF0000" stroke-width="2.4"/>
<path d="M429.7 1408.2L600.0 1207.1" stroke="#FF0000" stroke-width="2.4"/>
<path d="M429.7 1408.2L777.1 1350.0" stroke="#FF0000" stroke-width="2.4"/>
<path d="M968.0 914.9L865.1 1034.3" stroke="#FF0000" stroke-width="3.2"/>
<path d="M821.4 962.0L865.1 1034.3" stroke="#FF0000" stroke-width="2.4"/>
<path d="M821.4 962.0L760.6 1062.9" stroke="#FF0000" stroke-width="2.4"/>
<path d="M821.4 962.0L774.5 1154.8" stroke="#FF0000" stroke-width="2.4"/>
<path d="M865.1 1034.3L676.6 1204.3" stroke="#FF0000" stroke-width="2.4"/>
<path d="M865.1 1034.3L821.4 1152.9" stroke="#FF0000" stroke-width="2.4"/>
<path d="M865.1 1034.3L722.9 1177.1" stroke="#FF0000" stroke-width="2.4"/>
<path d="M865.1 1034.3L752.9 1174.3" stroke="#FF0000" stroke-width="3.4"/>
<path d="M973.2 1037.9L752.9 1174.3" stroke="#FF0000" stroke-width="2.6"/>
<path d="M973.2 1037.9L774.5 1154.8" stroke="#FF0000" stroke-width="2.4"/>
<path d="M1091.9 1053.2L752.9 1174.3" stroke="#FF0000" stroke-width="2.4"/>
<path d="M1091.9 1053.2L935.7 1179.1" stroke="#FF0000" stroke-width="2.4"/>
<path d="M1055.1 1337.1L894.3 1332.5" stroke="#FF0000" stroke-width="2.4"/>
<path d="M1055.1 1337.1L910.0 1300.0" stroke="#FF0000" stroke-width="2.4"/>
<path d="M1055.1 1337.1L777.1 1350.0" stroke="#FF0000" stroke-width="2.4"/>
<path d="M1055.1 1337.1L676.6 1204.3" stroke="#FF0000" stroke-width="2.4"/>
<path d="M1055.1 1337.1L807.1 1285.7" stroke="#FF0000" stroke-width="2.4"/>
<path d="M1055.1 1337.1L855.7 1405.1" stroke="#FF0000" stroke-width="2.4"/>
<path d="M1055.1 1337.1L894.3 1332.5" stroke="#FF0000" stroke-width="3"/>
<path d="M1064.3 1527.2L855.7 1405.1" stroke="#FF0000" stroke-width="2.2"/>
<path d="M1064.3 1527.2L777.1 1350.0" stroke="#FF0000" stroke-width="2.2"/>
<path d="M944.2 1542.5L855.7 1405.1" stroke="#FF0000" stroke-width="2.4"/>
<path d="M944.2 1542.5L805.7 1478.6" stroke="#FF0000" stroke-width="2.4"/>
<path d="M944.2 1542.5L820.0 1332.9" stroke="#FF0000" stroke-width="2.4"/>
<path d="M944.2 1542.5L804.3 1401.4" stroke="#FF0000" stroke-width="2.4"/>
<path d="M843.3 1552.2L805.7 1478.6" stroke="#FF0000" stroke-width="2.4"/>
<path d="M843.3 1552.2L804.3 1401.4" stroke="#FF0000" stroke-width="2.4"/>
<path d="M843.3 1552.2L820.0 1332.9" stroke="#FF0000" stroke-width="2.4"/>
<path d="M843.3 1552.2L777.1 1350.0" stroke="#FF0000" stroke-width="2.4"/>
<path d="M843.3 1552.2L832.9 1381.4" stroke="#FF0000" stroke-width="2.4"/>
<path d="M843.3 1552.2L762.9 1494.3" stroke="#FF0000" stroke-width="2.4"/>
<path d="M843.3 1552.2L742.3 1636.8" stroke="#FF0000" stroke-width="2.4"/>
<path d="M843.3 1552.2L890.0 1636.0" stroke="#FF0000" stroke-width="2.4"/>
<path d="M890.0 1636.0L804.3 1401.4" stroke="#FF0000" stroke-width="2.4"/>
<path d="M742.3 1636.8L696.9 1576.8" stroke="#FF0000" stroke-width="2.4"/>
<path d="M742.3 1636.8L725.7 1484.3" stroke="#FF0000" stroke-width="2.4"/>
<path d="M742.3 1636.8L805.7 1478.6" stroke="#FF0000" stroke-width="2.4"/>
<path d="M742.3 1636.8L742.9 1394.3" stroke="#FF0000" stroke-width="2.4"/>
<path d="M696.9 1576.8L725.7 1484.3" stroke="#FF0000" stroke-width="2.4"/>
<path d="M696.9 1576.8L762.9 1494.3" stroke="#FF0000" stroke-width="2.4"/>
<path d="M696.9 1576.8L742.9 1394.3" stroke="#FF0000" stroke-width="2.4"/>
<path d="M696.9 1576.8L777.1 1350.0" stroke="#FF0000" stroke-width="2.4"/>
<path d="M696.9 1576.8L750.0 1370.0" stroke="#FF0000" stroke-width="2.4"/>
<path d="M696.9 1576.8L805.7 1478.6" stroke="#FF0000" stroke-width="2.4"/>
<path d="M820.0 1332.9L777.1 1350.0" stroke="#FF0000" stroke-width="2.4"/>
<path d="M820.0 1332.9L676.6 1204.3" stroke="#FF0000" stroke-width="2.4"/>
<path d="M820.0 1332.9L752.9 1174.3" stroke="#FF0000" stroke-width="2.4"/>
<path d="M820.0 1332.9L744.3 1308.6" stroke="#FF0000" stroke-width="2.4"/>
<path d="M820.0 1332.9L807.1 1285.7" stroke="#FF0000" stroke-width="2.4"/>
<path d="M820.0 1332.9L725.0 1330.7" stroke="#FF0000" stroke-width="2.4"/>
<path d="M820.0 1332.9L750.0 1370.0" stroke="#FF0000" stroke-width="2.4"/>
<path d="M820.0 1332.9L860.7 1287.1" stroke="#FF0000" stroke-width="2.4"/>
<path d="M820.0 1332.9L910.0 1300.0" stroke="#FF0000" stroke-width="2.4"/>
<path d="M820.0 1332.9L894.3 1332.5" stroke="#FF0000" stroke-width="2.4"/>
<path d="M805.7 1478.6L777.1 1350.0" stroke="#FF0000" stroke-width="2.4"/>
<path d="M805.7 1478.6L744.3 1308.6" stroke="#FF0000" stroke-width="2.4"/>
<path d="M805.7 1478.6L725.0 1330.7" stroke="#FF0000" stroke-width="2.4"/>
<path d="M805.7 1478.6L676.6 1204.3" stroke="#FF0000" stroke-width="2.4"/>
<path d="M855.7 1405.1L777.1 1350.0" stroke="#FF0000" stroke-width="2.4"/>
<path d="M855.7 1405.1L676.6 1204.3" stroke="#FF0000" stroke-width="2.4"/>
<path d="M855.7 1405.1L752.9 1174.3" stroke="#FF0000" stroke-width="2.4"/>
<path d="M855.7 1405.1L744.3 1308.6" stroke="#FF0000" stroke-width="2.4"/>
<path d="M855.7 1405.1L807.1 1285.7" stroke="#FF0000" stroke-width="2.4"/>
<path d="M855.7 1405.1L725.0 1330.7" stroke="#FF0000" stroke-width="2.4"/>
<path d="M855.7 1405.1L750.0 1370.0" stroke="#FF0000" stroke-width="2.4"/>
<path d="M855.7 1405.1L860.7 1287.1" stroke="#FF0000" stroke-width="2.4"/>
<path d="M855.7 1405.1L910.0 1300.0" stroke="#FF0000" stroke-width="2.4"/>
<path d="M855.7 1405.1L894.3 1332.5" stroke="#FF0000" stroke-width="2.4"/>
<path d="M762.9 1494.3L777.1 1350.0" stroke="#FF0000" stroke-width="2.4"/>
<path d="M762.9 1494.3L744.3 1308.6" stroke="#FF0000" stroke-width="2.4"/>
<path d="M762.9 1494.3L725.0 1330.7" stroke="#FF0000" stroke-width="2.4"/>
<path d="M762.9 1494.3L676.6 1204.3" stroke="#FF0000" stroke-width="2.4"/>
<path d="M725.7 1484.3L777.1 1350.0" stroke="#FF0000" stroke-width="2.4"/>
<path d="M725.7 1484.3L744.3 1308.6" stroke="#FF0000" stroke-width="2.4"/>
<path d="M725.7 1484.3L725.0 1330.7" stroke="#FF0000" stroke-width="2.4"/>
<path d="M725.7 1484.3L676.6 1204.3" stroke="#FF0000" stroke-width="2.4"/>
<path d="M690.0 1395.4L777.1 1350.0" stroke="#FF0000" stroke-width="2.4"/>
<path d="M690.0 1395.4L676.6 1204.3" stroke="#FF0000" stroke-width="2.4"/>
<path d="M690.0 1395.4L752.9 1174.3" stroke="#FF0000" stroke-width="2.4"/>
<path d="M690.0 1395.4L744.3 1308.6" stroke="#FF0000" stroke-width="2.4"/>
<path d="M690.0 1395.4L807.1 1285.7" stroke="#FF0000" stroke-width="2.4"/>
<path d="M690.0 1395.4L725.0 1330.7" stroke="#FF0000" stroke-width="2.4"/>
<path d="M690.0 1395.4L750.0 1370.0" stroke="#FF0000" stroke-width="2.4"/>
<path d="M690.0 1395.4L860.7 1287.1" stroke="#FF0000" stroke-width="2.4"/>
<path d="M690.0 1395.4L910.0 1300.0" stroke="#FF0000" stroke-width="2.4"/>
<path d="M690.0 1395.4L894.3 1332.5" stroke="#FF0000" stroke-width="2.4"/>
<path d="M742.9 1394.3L777.1 1350.0" stroke="#FF0000" stroke-width="2.4"/>
<path d="M742.9 1394.3L676.6 1204.3" stroke="#FF0000" stroke-width="2.4"/>
<path d="M742.9 1394.3L752.9 1174.3" stroke="#FF0000" stroke-width="2.4"/>
<path d="M742.9 1394.3L744.3 1308.6" stroke="#FF0000" stroke-width="2.4"/>
<path d="M742.9 1394.3L807.1 1285.7" stroke="#FF0000" stroke-width="2.4"/>
<path d="M742.9 1394.3L725.0 1330.7" stroke="#FF0000" stroke-width="2.4"/>
<path d="M742.9 1394.3L750.0 1370.0" stroke="#FF0000" stroke-width="2.4"/>
<path d="M742.9 1394.3L860.7 1287.1" stroke="#FF0000" stroke-width="2.4"/>
<path d="M742.9 1394.3L910.0 1300.0" stroke="#FF0000" stroke-width="2.4"/>
<path d="M742.9 1394.3L894.3 1332.5" stroke="#FF0000" stroke-width="2.4"/>
<path d="M804.3 1401.4L777.1 1350.0" stroke="#FF0000" stroke-width="2.4"/>
<path d="M804.3 1401.4L676.6 1204.3" stroke="#FF0000" stroke-width="2.4"/>
<path d="M804.3 1401.4L752.9 1174.3" stroke="#FF0000" stroke-width="2.4"/>
<path d="M804.3 1401.4L744.3 1308.6" stroke="#FF0000" stroke-width="2.4"/>
<path d="M804.3 1401.4L807.1 1285.7" stroke="#FF0000" stroke-width="2.4"/>
<path d="M804.3 1401.4L725.0 1330.7" stroke="#FF0000" stroke-width="2.4"/>
<path d="M804.3 1401.4L750.0 1370.0" stroke="#FF0000" stroke-width="2.4"/>
<path d="M804.3 1401.4L860.7 1287.1" stroke="#FF0000" stroke-width="2.4"/>
<path d="M804.3 1401.4L910.0 1300.0" stroke="#FF0000" stroke-width="2.4"/>
<path d="M804.3 1401.4L894.3 1332.5" stroke="#FF0000" stroke-width="2.4"/>
<path d="M832.9 1381.4L777.1 1350.0" stroke="#FF0000" stroke-width="2.4"/>
<path d="M832.9 1381.4L676.6 1204.3" stroke="#FF0000" stroke-width="2.4"/>
<path d="M832.9 1381.4L752.9 1174.3" stroke="#FF0000" stroke-width="2.4"/>
<path d="M832.9 1381.4L744.3 1308.6" stroke="#FF0000" stroke-width="2.4"/>
<path d="M832.9 1381.4L807.1 1285.7" stroke="#FF0000" stroke-width="2.4"/>
<path d="M832.9 1381.4L725.0 1330.7" stroke="#FF0000" stroke-width="2.4"/>
<path d="M832.9 1381.4L750.0 1370.0" stroke="#FF0000" stroke-width="2.4"/>
<path d="M832.9 1381.4L860.7 1287.1" stroke="#FF0000" stroke-width="2.4"/>
<path d="M832.9 1381.4L910.0 1300.0" stroke="#FF0000" stroke-width="2.4"/>
<path d="M832.9 1381.4L894.3 1332.5" stroke="#FF0000" stroke-width="2.4"/>
<path d="M940.3 1403.8L777.1 1350.0" stroke="#FF0000" stroke-width="2.4"/>
<path d="M940.3 1403.8L676.6 1204.3" stroke="#FF0000" stroke-width="2.4"/>
<path d="M940.3 1403.8L752.9 1174.3" stroke="#FF0000" stroke-width="2.4"/>
<path d="M940.3 1403.8L744.3 1308.6" stroke="#FF0000" stroke-width="2.4"/>
<path d="M940.3 1403.8L807.1 1285.7" stroke="#FF0000" stroke-width="2.4"/>
<path d="M940.3 1403.8L725.0 1330.7" stroke="#FF0000" stroke-width="2.4"/>
<path d="M940.3 1403.8L750.0 1370.0" stroke="#FF0000" stroke-width="2.4"/>
<path d="M940.3 1403.8L860.7 1287.1" stroke="#FF0000" stroke-width="2.4"/>
<path d="M940.3 1403.8L910.0 1300.0" stroke="#FF0000" stroke-width="2.4"/>
<path d="M940.3 1403.8L894.3 1332.5" stroke="#FF0000" stroke-width="2.4"/>
<path d="M940.3 1403.8L1009.5 1377.1" stroke="#FF0000" stroke-width="2.4"/>
<path d="M855.7 1405.1L1009.5 1377.1" stroke="#FF0000" stroke-width="2.4"/>
<path d="M832.9 1381.4L1009.5 1377.1" stroke="#FF0000" stroke-width="2.4"/>
<path d="M940.3 1403.8L890.0 1227.1" stroke="#FF0000" stroke-width="2.4"/>
<path d="M511.4 1321.4L832.9 1381.4" stroke="#FF0000" stroke-width="2.4"/>
<path d="M600.0 1207.1L690.0 1395.4" stroke="#FF0000" stroke-width="2.4"/>
<path d="M485.4 898.6L627.1 857.1" stroke="#000000" stroke-width="2.4"/>
<path d="M480.0 1007.1L608.0 992.0" stroke="#000000" stroke-width="2.4"/>
<path d="M973.2 1037.9L1091.9 1053.2" stroke="#000000" stroke-width="2.4"/>
<path d="M600.0 1207.1L535.7 1254.3" stroke="#000000" stroke-width="2.4"/>
<path d="M600.0 1207.1L511.4 1321.4" stroke="#000000" stroke-width="2.4"/>
<path d="M600.0 1207.1L698.6 1122.3" stroke="#000000" stroke-width="2.4"/>
<path d="M600.0 1207.1L672.9 1167.1" stroke="#000000" stroke-width="2.4"/>
<path d="M600.0 1207.1L648.0 1187.1" stroke="#000000" stroke-width="2.4"/>
<path d="M600.0 1207.1L722.9 1177.1" stroke="#000000" stroke-width="2.4"/>
<path d="M600.0 1207.1L752.9 1174.3" stroke="#000000" stroke-width="2.4"/>
<path d="M600.0 1207.1L774.5 1154.8" stroke="#000000" stroke-width="2.4"/>
<path d="M600.0 1207.1L821.4 1152.9" stroke="#000000" stroke-width="2.4"/>
<path d="M600.0 1207.1L827.1 1185.7" stroke="#000000" stroke-width="2.4"/>
<path d="M600.0 1207.1L830.0 1210.0" stroke="#000000" stroke-width="2.4"/>
<path d="M600.0 1207.1L676.6 1204.3" stroke="#000000" stroke-width="2.4"/>
<path d="M600.0 1207.1L595.0 1238.3" stroke="#000000" stroke-width="2.4"/>
<path d="M600.0 1207.1L648.3 1259.0" stroke="#000000" stroke-width="2.4"/>
<path d="M600.0 1207.1L710.0 1232.9" stroke="#000000" stroke-width="2.4"/>
<path d="M600.0 1207.1L758.6 1228.6" stroke="#000000" stroke-width="2.4"/>
<path d="M600.0 1207.1L614.3 1287.1" stroke="#000000" stroke-width="2.4"/>
<path d="M600.0 1207.1L807.1 1285.7" stroke="#000000" stroke-width="2.4"/>
<path d="M600.0 1207.1L860.7 1287.1" stroke="#000000" stroke-width="2.4"/>
<path d="M600.0 1207.1L744.3 1308.6" stroke="#000000" stroke-width="2.4"/>
<path d="M600.0 1207.1L725.0 1330.7" stroke="#000000" stroke-width="2.4"/>
<path d="M600.0 1207.1L777.1 1350.0" stroke="#000000" stroke-width="2.4"/>
<path d="M600.0 1207.1L601.7 1339.5" stroke="#000000" stroke-width="2.4"/>
<path d="M600.0 1207.1L750.0 1370.0" stroke="#000000" stroke-width="2.4"/>
<path d="M777.1 1350.0L698.6 1122.3" stroke="#000000" stroke-width="2.4"/>
<path d="M777.1 1350.0L672.9 1167.1" stroke="#000000" stroke-width="2.4"/>
<path d="M777.1 1350.0L648.0 1187.1" stroke="#000000" stroke-width="2.4"/>
<path d="M777.1 1350.0L722.9 1177.1" stroke="#000000" stroke-width="2.4"/>
<path d="M777.1 1350.0L752.9 1174.3" stroke="#000000" stroke-width="2.4"/>
<path d="M777.1 1350.0L774.5 1154.8" stroke="#000000" stroke-width="2.4"/>
<path d="M777.1 1350.0L821.4 1152.9" stroke="#000000" stroke-width="2.4"/>
<path d="M777.1 1350.0L827.1 1185.7" stroke="#000000" stroke-width="2.4"/>
<path d="M777.1 1350.0L830.0 1210.0" stroke="#000000" stroke-width="2.4"/>
<path d="M777.1 1350.0L890.0 1227.1" stroke="#000000" stroke-width="2.4"/>
<path d="M777.1 1350.0L676.6 1204.3" stroke="#000000" stroke-width="2.4"/>
<path d="M777.1 1350.0L595.0 1238.3" stroke="#000000" stroke-width="2.4"/>
<path d="M777.1 1350.0L648.3 1259.0" stroke="#000000" stroke-width="2.4"/>
<path d="M777.1 1350.0L710.0 1232.9" stroke="#000000" stroke-width="2.4"/>
<path d="M777.1 1350.0L758.6 1228.6" stroke="#000000" stroke-width="2.4"/>
<path d="M777.1 1350.0L614.3 1287.1" stroke="#000000" stroke-width="2.4"/>
<path d="M777.1 1350.0L807.1 1285.7" stroke="#000000" stroke-width="2.4"/>
<path d="M777.1 1350.0L860.7 1287.1" stroke="#000000" stroke-width="2.4"/>
<path d="M777.1 1350.0L910.0 1300.0" stroke="#000000" stroke-width="2.4"/>
<path d="M777.1 1350.0L744.3 1308.6" stroke="#000000" stroke-width="2.4"/>
<path d="M777.1 1350.0L725.0 1330.7" stroke="#000000" stroke-width="2.4"/>
<path d="M777.1 1350.0L894.3 1332.5" stroke="#000000" stroke-width="2.4"/>
<path d="M777.1 1350.0L601.7 1339.5" stroke="#000000" stroke-width="2.4"/>
<path d="M777.1 1350.0L750.0 1370.0" stroke="#000000" stroke-width="2.4"/>
<path d="M777.1 1350.0L1009.5 1377.1" stroke="#000000" stroke-width="2.4"/>
<path d="M676.6 1204.3L535.7 1254.3" stroke="#000000" stroke-width="2.4"/>
<path d="M676.6 1204.3L511.4 1321.4" stroke="#000000" stroke-width="2.4"/>
<path d="M676.6 1204.3L698.6 1122.3" stroke="#000000" stroke-width="2.4"/>
<path d="M676.6 1204.3L672.9 1167.1" stroke="#000000" stroke-width="2.4"/>
<path d="M676.6 1204.3L648.0 1187.1" stroke="#000000" stroke-width="2.4"/>
<path d="M676.6 1204.3L722.9 1177.1" stroke="#000000" stroke-width="2.4"/>
<path d="M676.6 1204.3L752.9 1174.3" stroke="#000000" stroke-width="2.4"/>
<path d="M676.6 1204.3L774.5 1154.8" stroke="#000000" stroke-width="2.4"/>
<path d="M676.6 1204.3L821.4 1152.9" stroke="#000000" stroke-width="2.4"/>
<path d="M676.6 1204.3L827.1 1185.7" stroke="#000000" stroke-width="2.4"/>
<path d="M676.6 1204.3L830.0 1210.0" stroke="#000000" stroke-width="2.4"/>
<path d="M676.6 1204.3L935.7 1179.1" stroke="#000000" stroke-width="2.4"/>
<path d="M676.6 1204.3L595.0 1238.3" stroke="#000000" stroke-width="2.4"/>
<path d="M676.6 1204.3L648.3 1259.0" stroke="#000000" stroke-width="2.4"/>
<path d="M676.6 1204.3L710.0 1232.9" stroke="#000000" stroke-width="2.4"/>
<path d="M676.6 1204.3L758.6 1228.6" stroke="#000000" stroke-width="2.4"/>
<path d="M676.6 1204.3L614.3 1287.1" stroke="#000000" stroke-width="2.4"/>
<path d="M676.6 1204.3L807.1 1285.7" stroke="#000000" stroke-width="2.4"/>
<path d="M676.6 1204.3L860.7 1287.1" stroke="#000000" stroke-width="2.4"/>
<path d="M676.6 1204.3L910.0 1300.0" stroke="#000000" stroke-width="2.4"/>
<path d="M676.6 1204.3L744.3 1308.6" stroke="#000000" stroke-width="2.4"/>
<path d="M676.6 1204.3L725.0 1330.7" stroke="#000000" stroke-width="2.4"/>
<path d="M676.6 1204.3L601.7 1339.5" stroke="#000000" stroke-width="2.4"/>
<path d="M676.6 1204.3L750.0 1370.0" stroke="#000000" stroke-width="2.4"/>
<path d="M752.9 1174.3L511.4 1321.4" stroke="#000000" stroke-width="2.4"/>
<path d="M752.9 1174.3L698.6 1122.3" stroke="#000000" stroke-width="2.4"/>
<path d="M752.9 1174.3L672.9 1167.1" stroke="#000000" stroke-width="2.4"/>
<path d="M752.9 1174.3L648.0 1187.1" stroke="#000000" stroke-width="2.4"/>
<path d="M752.9 1174.3L722.9 1177.1" stroke="#000000" stroke-width="2.4"/>
<path d="M752.9 1174.3L774.5 1154.8" stroke="#000000" stroke-width="2.4"/>
<path d="M752.9 1174.3L821.4 1152.9" stroke="#000000" stroke-width="2.4"/>
<path d="M752.9 1174.3L827.1 1185.7" stroke="#000000" stroke-width="2.4"/>
<path d="M752.9 1174.3L830.0 1210.0" stroke="#000000" stroke-width="2.4"/>
<path d="M752.9 1174.3L890.0 1227.1" stroke="#000000" stroke-width="2.4"/>
<path d="M752.9 1174.3L935.7 1179.1" stroke="#000000" stroke-width="2.4"/>
<path d="M752.9 1174.3L595.0 1238.3" stroke="#000000" stroke-width="2.4"/>
<path d="M752.9 1174.3L648.3 1259.0" stroke="#000000" stroke-width="2.4"/>
<path d="M752.9 1174.3L710.0 1232.9" stroke="#000000" stroke-width="2.4"/>
<path d="M752.9 1174.3L758.6 1228.6" stroke="#000000" stroke-width="2.4"/>
<path d="M752.9 1174.3L614.3 1287.1" stroke="#000000" stroke-width="2.4"/>
<path d="M752.9 1174.3L807.1 1285.7" stroke="#000000" stroke-width="2.4"/>
<path d="M752.9 1174.3L860.7 1287.1" stroke="#000000" stroke-width="2.4"/>
<path d="M752.9 1174.3L910.0 1300.0" stroke="#000000" stroke-width="2.4"/>
<path d="M752.9 1174.3L744.3 1308.6" stroke="#000000" stroke-width="2.4"/>
<path d="M752.9 1174.3L725.0 1330.7" stroke="#000000" stroke-width="2.4"/>
<path d="M752.9 1174.3L894.3 1332.5" stroke="#000000" stroke-width="2.4"/>
<path d="M752.9 1174.3L601.7 1339.5" stroke="#000000" stroke-width="2.4"/>
<path d="M752.9 1174.3L750.0 1370.0" stroke="#000000" stroke-width="2.4"/>
<path d="M648.3 1259.0L710.0 1232.9" stroke="#000000" stroke-width="2.4"/>
<path d="M648.3 1259.0L601.7 1339.5" stroke="#000000" stroke-width="2.4"/>
<path d="M648.3 1259.0L890.0 1227.1" stroke="#000000" stroke-width="2.4"/>
<path d="M648.3 1259.0L725.0 1330.7" stroke="#000000" stroke-width="2.4"/>
<path d="M648.3 1259.0L750.0 1370.0" stroke="#000000" stroke-width="2.4"/>
<path d="M648.3 1259.0L744.3 1308.6" stroke="#000000" stroke-width="2.4"/>
<path d="M648.3 1259.0L807.1 1285.7" stroke="#000000" stroke-width="2.4"/>
<path d="M648.3 1259.0L614.3 1287.1" stroke="#000000" stroke-width="2.4"/>
<path d="M648.3 1259.0L860.7 1287.1" stroke="#000000" stroke-width="2.4"/>
<path d="M648.3 1259.0L910.0 1300.0" stroke="#000000" stroke-width="2.4"/>
<path d="M648.3 1259.0L511.4 1321.4" stroke="#000000" stroke-width="2.4"/>
<path d="M648.3 1259.0L535.7 1254.3" stroke="#000000" stroke-width="2.4"/>
<path d="M648.3 1259.0L894.3 1332.5" stroke="#000000" stroke-width="2.4"/>
<path d="M744.3 1308.6L710.0 1232.9" stroke="#000000" stroke-width="2.4"/>
<path d="M744.3 1308.6L601.7 1339.5" stroke="#000000" stroke-width="2.4"/>
<path d="M744.3 1308.6L890.0 1227.1" stroke="#000000" stroke-width="2.4"/>
<path d="M744.3 1308.6L725.0 1330.7" stroke="#000000" stroke-width="2.4"/>
<path d="M744.3 1308.6L750.0 1370.0" stroke="#000000" stroke-width="2.4"/>
<path d="M744.3 1308.6L807.1 1285.7" stroke="#000000" stroke-width="2.4"/>
<path d="M744.3 1308.6L614.3 1287.1" stroke="#000000" stroke-width="2.4"/>
<path d="M744.3 1308.6L860.7 1287.1" stroke="#000000" stroke-width="2.4"/>
<path d="M744.3 1308.6L910.0 1300.0" stroke="#000000" stroke-width="2.4"/>
<path d="M744.3 1308.6L698.6 1122.3" stroke="#000000" stroke-width="2.4"/>
<path d="M744.3 1308.6L672.9 1167.1" stroke="#000000" stroke-width="2.4"/>
<path d="M744.3 1308.6L758.6 1228.6" stroke="#000000" stroke-width="2.4"/>
<path d="M744.3 1308.6L894.3 1332.5" stroke="#000000" stroke-width="2.4"/>
<path d="M807.1 1285.7L710.0 1232.9" stroke="#000000" stroke-width="2.4"/>
<path d="M807.1 1285.7L890.0 1227.1" stroke="#000000" stroke-width="2.4"/>
<path d="M807.1 1285.7L725.0 1330.7" stroke="#000000" stroke-width="2.4"/>
<path d="M807.1 1285.7L750.0 1370.0" stroke="#000000" stroke-width="2.4"/>
<path d="M807.1 1285.7L860.7 1287.1" stroke="#000000" stroke-width="2.4"/>
<path d="M807.1 1285.7L910.0 1300.0" stroke="#000000" stroke-width="2.4"/>
<path d="M807.1 1285.7L894.3 1332.5" stroke="#000000" stroke-width="2.4"/>
<path d="M807.1 1285.7L1009.5 1377.1" stroke="#000000" stroke-width="2.4"/>
<path d="M807.1 1285.7L672.9 1167.1" stroke="#000000" stroke-width="2.4"/>
<path d="M807.1 1285.7L758.6 1228.6" stroke="#000000" stroke-width="2.4"/>
<path d="M807.1 1285.7L601.7 1339.5" stroke="#000000" stroke-width="2.4"/>
<path d="M710.0 1232.9L601.7 1339.5" stroke="#000000" stroke-width="2.4"/>
<path d="M710.0 1232.9L890.0 1227.1" stroke="#000000" stroke-width="2.4"/>
<path d="M710.0 1232.9L725.0 1330.7" stroke="#000000" stroke-width="2.4"/>
<path d="M710.0 1232.9L750.0 1370.0" stroke="#000000" stroke-width="2.4"/>
<path d="M710.0 1232.9L860.7 1287.1" stroke="#000000" stroke-width="2.4"/>
<path d="M710.0 1232.9L511.4 1321.4" stroke="#000000" stroke-width="2.4"/>
<path d="M710.0 1232.9L535.7 1254.3" stroke="#000000" stroke-width="2.4"/>
<path d="M710.0 1232.9L595.0 1238.3" stroke="#000000" stroke-width="2.4"/>
<path d="M710.0 1232.9L758.6 1228.6" stroke="#000000" stroke-width="2.4"/>
<path d="M710.0 1232.9L648.0 1187.1" stroke="#000000" stroke-width="2.4"/>
<path d="M710.0 1232.9L830.0 1210.0" stroke="#000000" stroke-width="2.4"/>
<path d="M725.0 1330.7L750.0 1370.0" stroke="#000000" stroke-width="2.4"/>
<path d="M725.0 1330.7L860.7 1287.1" stroke="#000000" stroke-width="2.4"/>
<path d="M725.0 1330.7L910.0 1300.0" stroke="#000000" stroke-width="2.4"/>
<path d="M725.0 1330.7L758.6 1228.6" stroke="#000000" stroke-width="2.4"/>
<path d="M725.0 1330.7L601.7 1339.5" stroke="#000000" stroke-width="2.4"/>
<path d="M725.0 1330.7L890.0 1227.1" stroke="#000000" stroke-width="2.4"/>
<path d="M725.0 1330.7L614.3 1287.1" stroke="#000000" stroke-width="2.4"/>
<path d="M750.0 1370.0L860.7 1287.1" stroke="#000000" stroke-width="2.4"/>
<path d="M750.0 1370.0L910.0 1300.0" stroke="#000000" stroke-width="2.4"/>
<path d="M750.0 1370.0L595.0 1238.3" stroke="#000000" stroke-width="2.4"/>
<path d="M750.0 1370.0L601.7 1339.5" stroke="#000000" stroke-width="2.4"/>
<path d="M750.0 1370.0L894.3 1332.5" stroke="#000000" stroke-width="2.4"/>
<path d="M860.7 1287.1L910.0 1300.0" stroke="#000000" stroke-width="2.4"/>
<path d="M860.7 1287.1L1009.5 1377.1" stroke="#000000" stroke-width="2.4"/>
<path d="M860.7 1287.1L894.3 1332.5" stroke="#000000" stroke-width="2.4"/>
<path d="M860.7 1287.1L890.0 1227.1" stroke="#000000" stroke-width="2.4"/>
<path d="M860.7 1287.1L830.0 1210.0" stroke="#000000" stroke-width="2.4"/>
<path d="M860.7 1287.1L648.0 1187.1" stroke="#000000" stroke-width="2.4"/>
<path d="M910.0 1300.0L894.3 1332.5" stroke="#000000" stroke-width="2.4"/>
<path d="M910.0 1300.0L1009.5 1377.1" stroke="#000000" stroke-width="2.4"/>
<path d="M910.0 1300.0L935.7 1179.1" stroke="#000000" stroke-width="2.4"/>
<path d="M910.0 1300.0L830.0 1210.0" stroke="#000000" stroke-width="2.4"/>
<path d="M910.0 1300.0L890.0 1227.1" stroke="#000000" stroke-width="2.4"/>
<path d="M1009.5 1377.1L894.3 1332.5" stroke="#000000" stroke-width="2.4"/>
<path d="M935.7 1179.1L821.4 1152.9" stroke="#000000" stroke-width="2.4"/>
<path d="M935.7 1179.1L827.1 1185.7" stroke="#000000" stroke-width="2.4"/>
<path d="M935.7 1179.1L830.0 1210.0" stroke="#000000" stroke-width="2.4"/>
<path d="M935.7 1179.1L890.0 1227.1" stroke="#000000" stroke-width="2.4"/>
<path d="M935.7 1179.1L774.5 1154.8" stroke="#000000" stroke-width="2.4"/>
<path d="M511.4 1321.4L535.7 1254.3" stroke="#000000" stroke-width="2.4"/>
<path d="M511.4 1321.4L601.7 1339.5" stroke="#000000" stroke-width="2.4"/>
<path d="M511.4 1321.4L595.0 1238.3" stroke="#000000" stroke-width="2.4"/>
<path d="M511.4 1321.4L614.3 1287.1" stroke="#000000" stroke-width="2.4"/>
<path d="M535.7 1254.3L595.0 1238.3" stroke="#000000" stroke-width="2.4"/>
<path d="M698.6 1122.3L672.9 1167.1" stroke="#000000" stroke-width="2.4"/>
<path d="M698.6 1122.3L722.9 1177.1" stroke="#000000" stroke-width="2.4"/>
<path d="M698.6 1122.3L774.5 1154.8" stroke="#000000" stroke-width="2.4"/>
<path d="M698.6 1122.3L821.4 1152.9" stroke="#000000" stroke-width="2.4"/>
<path d="M698.6 1122.3L758.6 1228.6" stroke="#000000" stroke-width="2.4"/>
<path d="M698.6 1122.3L827.1 1185.7" stroke="#000000" stroke-width="2.4"/>
<path d="M758.6 1228.6L827.1 1185.7" stroke="#000000" stroke-width="2.4"/>
<path d="M758.6 1228.6L830.0 1210.0" stroke="#000000" stroke-width="2.4"/>
<path d="M758.6 1228.6L648.0 1187.1" stroke="#000000" stroke-width="2.4"/>
<path d="M758.6 1228.6L595.0 1238.3" stroke="#000000" stroke-width="2.4"/>
<path d="M758.6 1228.6L672.9 1167.1" stroke="#000000" stroke-width="2.4"/>
<path d="M758.6 1228.6L774.5 1154.8" stroke="#000000" stroke-width="2.4"/>
<path d="M821.4 1152.9L827.1 1185.7" stroke="#000000" stroke-width="2.4"/>
<path d="M821.4 1152.9L722.9 1177.1" stroke="#000000" stroke-width="2.4"/>
<path d="M821.4 1152.9L774.5 1154.8" stroke="#000000" stroke-width="2.4"/>
<path d="M672.9 1167.1L648.0 1187.1" stroke="#000000" stroke-width="2.4"/>
<path d="M672.9 1167.1L774.5 1154.8" stroke="#000000" stroke-width="2.4"/>
<path d="M672.9 1167.1L722.9 1177.1" stroke="#000000" stroke-width="2.4"/>
<path d="M672.9 1167.1L595.0 1238.3" stroke="#000000" stroke-width="2.4"/>
<path d="M690.0 1395.4L725.7 1484.3" stroke="#000000" stroke-width="2.4"/>
<path d="M690.0 1395.4L762.9 1494.3" stroke="#000000" stroke-width="2.4"/>
<path d="M690.0 1395.4L805.7 1478.6" stroke="#000000" stroke-width="2.4"/>
<path d="M742.9 1394.3L725.7 1484.3" stroke="#000000" stroke-width="2.4"/>
<path d="M742.9 1394.3L762.9 1494.3" stroke="#000000" stroke-width="2.4"/>
<path d="M742.9 1394.3L805.7 1478.6" stroke="#000000" stroke-width="2.4"/>
<path d="M804.3 1401.4L725.7 1484.3" stroke="#000000" stroke-width="2.4"/>
<path d="M804.3 1401.4L762.9 1494.3" stroke="#000000" stroke-width="2.4"/>
<path d="M804.3 1401.4L805.7 1478.6" stroke="#000000" stroke-width="2.4"/>
<path d="M855.7 1405.1L725.7 1484.3" stroke="#000000" stroke-width="2.4"/>
<path d="M855.7 1405.1L762.9 1494.3" stroke="#000000" stroke-width="2.4"/>
<path d="M855.7 1405.1L805.7 1478.6" stroke="#000000" stroke-width="2.4"/>
<path d="M832.9 1381.4L725.7 1484.3" stroke="#000000" stroke-width="2.4"/>
<path d="M832.9 1381.4L762.9 1494.3" stroke="#000000" stroke-width="2.4"/>
<path d="M832.9 1381.4L805.7 1478.6" stroke="#000000" stroke-width="2.4"/>
<path d="M820.0 1332.9L725.7 1484.3" stroke="#000000" stroke-width="2.4"/>
<path d="M820.0 1332.9L762.9 1494.3" stroke="#000000" stroke-width="2.4"/>
<path d="M820.0 1332.9L805.7 1478.6" stroke="#000000" stroke-width="2.4"/>
<path d="M940.3 1403.8L805.7 1478.6" stroke="#000000" stroke-width="2.4"/>
<path d="M855.7 1405.1L940.3 1403.8" stroke="#000000" stroke-width="2.6"/>
<path d="M725.7 1484.3L762.9 1494.3" stroke="#000000" stroke-width="2.4"/>
<path d="M762.9 1494.3L805.7 1478.6" stroke="#000000" stroke-width="2.4"/>
<path d="M725.7 1484.3L805.7 1478.6" stroke="#000000" stroke-width="2.4"/>
<path d="M820.0 1332.9L690.0 1395.4" stroke="#000000" stroke-width="2.4"/>
<path d="M820.0 1332.9L742.9 1394.3" stroke="#000000" stroke-width="2.4"/>
<path d="M820.0 1332.9L832.9 1381.4" stroke="#000000" stroke-width="2.4"/>
<path d="M820.0 1332.9L804.3 1401.4" stroke="#000000" stroke-width="2.4"/>
<path d="M820.0 1332.9L855.7 1405.1" stroke="#000000" stroke-width="2.4"/>
<path d="M742.9 1394.3L690.0 1395.4" stroke="#000000" stroke-width="2.4"/>
<path d="M742.9 1394.3L804.3 1401.4" stroke="#000000" stroke-width="2.4"/>
<path d="M832.9 1381.4L940.3 1403.8" stroke="#000000" stroke-width="2.4"/>
<path d="M804.3 1401.4L855.7 1405.1" stroke="#000000" stroke-width="2.4"/>
<path d="M690.0 1395.4L804.3 1401.4" stroke="#000000" stroke-width="2.4"/>
<path d="M742.9 1394.3L832.9 1381.4" stroke="#000000" stroke-width="2.4"/>
<path d="M832.9 1381.4L804.3 1401.4" stroke="#000000" stroke-width="2.4"/>
</g>
<g stroke="#000" stroke-width="2.6">
<circle cx="627.1" cy="857.1" r="28" fill="#0072B2"/>
<circle cx="485.4" cy="898.6" r="28" fill="#0072B2"/>
<circle cx="480.0" cy="1007.1" r="28" fill="#009E73"/>
<circle cx="608.0" cy="992.0" r="28" fill="#009E73"/>
<circle cx="702.0" cy="1002.9" r="28" fill="#0072B2"/>
<circle cx="658.6" cy="1061.4" r="28" fill="#F0E442"/>
<circle cx="760.6" cy="1062.9" r="28" fill="#0072B2"/>
<circle cx="325.0" cy="1130.0" r="28" fill="#999999"/>
<circle cx="312.2" cy="1215.0" r="28" fill="#E69F00"/>
<circle cx="429.7" cy="1408.2" r="28" fill="#CC79A7"/>
<circle cx="843.3" cy="1552.2" r="28" fill="#009E73"/>
<circle cx="944.2" cy="1542.5" r="28" fill="#D55E00"/>
<circle cx="696.9" cy="1576.8" r="28" fill="#D55E00"/>
<circle cx="742.3" cy="1636.8" r="28" fill="#E69F00"/>
<circle cx="890.0" cy="1636.0" r="28" fill="#56B4E9"/>
<circle cx="1064.3" cy="1527.2" r="28" fill="#009E73"/>
<circle cx="968.0" cy="914.9" r="28" fill="#009E73"/>
<circle cx="821.4" cy="962.0" r="28" fill="#F0E442"/>
<circle cx="865.1" cy="1034.3" r="28" fill="#CC79A7"/>
<circle cx="973.2" cy="1037.9" r="28" fill="#56B4E9"/>
<circle cx="1091.9" cy="1053.2" r="28" fill="#56B4E9"/>
<circle cx="676.6" cy="1204.3" r="28" fill="#E69F00"/>
<circle cx="600.0" cy="1207.1" r="28" fill="#E69F00"/>
<circle cx="648.3" cy="1259.0" r="28" fill="#E69F00"/>
<circle cx="614.3" cy="1287.1" r="28" fill="#E69F00"/>
<circle cx="535.7" cy="1254.3" r="28" fill="#E69F00"/>
<circle cx="758.6" cy="1228.6" r="28" fill="#E69F00"/>
<circle cx="722.9" cy="1177.1" r="28" fill="#E69F00"/>
<circle cx="774.5" cy="1154.8" r="28" fill="#E69F00"/>
<circle cx="648.0" cy="1187.1" r="28" fill="#E69F00"/>
<circle cx="698.6" cy="1122.3" r="28" fill="#E69F00"/>
<circle cx="672.9" cy="1167.1" r="28" fill="#E69F00"/>
<circle cx="752.9" cy="1174.3" r="28" fill="#E69F00"/>
<circle cx="821.4" cy="1152.9" r="28" fill="#E69F00"/>
<circle cx="827.1" cy="1185.7" r="28" fill="#E69F00"/>
<circle cx="830.0" cy="1210.0" r="28" fill="#E69F00"/>
<circle cx="890.0" cy="1227.1" r="28" fill="#E69F00"/>
<circle cx="935.7" cy="1179.1" r="28" fill="#E69F00"/>
<circle cx="595.0" cy="1238.3" r="28" fill="#E69F00"/>
<circle cx="710.0" cy="1232.9" r="28" fill="#E69F00"/>
<circle cx="601.7" cy="1339.5" r="28" fill="#E69F00"/>
<circle cx="860.7" cy="1287.1" r="28" fill="#E69F00"/>
<circle cx="807.1" cy="1285.7" r="28" fill="#E69F00"/>
<circle cx="910.0" cy="1300.0" r="28" fill="#E69F00"/>
<circle cx="894.3" cy="1332.5" r="28" fill="#E69F00"/>
<circle cx="777.1" cy="1350.0" r="28" fill="#E69F00"/>
<circle cx="725.0" cy="1330.7" r="28" fill="#E69F00"/>
<circle cx="744.3" cy="1308.6" r="28" fill="#E69F00"/>
<circle cx="832.9" cy="1381.4" r="28" fill="#CC79A7"/>
<circle cx="820.0" cy="1332.9" r="28" fill="#CC79A7"/>
<circle cx="742.9" cy="1394.3" r="28" fill="#CC79A7"/>
<circle cx="690.0" cy="1395.4" r="28" fill="#CC79A7"/>
<circle cx="750.0" cy="1370.0" r="28" fill="#E69F00"/>
<circle cx="804.3" cy="1401.4" r="28" fill="#CC79A7"/>
<circle cx="855.7" cy="1405.1" r="28" fill="#CC79A7"/>
<circle cx="940.3" cy="1403.8" r="28" fill="#CC79A7"/>
<circle cx="1055.1" cy="1337.1" r="28" fill="#999999"/>
<circle cx="1009.5" cy="1377.1" r="28" fill="#E69F00"/>
<circle cx="725.7" cy="1484.3" r="28" fill="#CC79A7"/>
<circle cx="762.9" cy="1494.3" r="28" fill="#CC79A7"/>
<circle cx="805.7" cy="1478.6" r="28" fill="#CC79A7"/>
<circle cx="458.6" cy="1303.2" r="28" fill="#56B4E9"/>
<circle cx="511.4" cy="1321.4" r="28" fill="#E69F00"/>
<circle cx="535.1" cy="1092.0" r="28" fill="#D55E00"/>
<circle cx="574.3" cy="1058.6" r="28" fill="#56B4E9"/>
<circle cx="457.1" cy="1092.0" r="28" fill="#F0E442"/>
<circle cx="459.4" cy="1187.1" r="28" fill="#999999"/>
<circle cx="485.7" cy="1143.4" r="28" fill="#E69F00"/>
</g>
<g font-family="'Liberation Sans', sans-serif" font-weight="bold" font-size="21.4" fill="#000" text-anchor="middle">
<text x="627.1" y="864.7">Si5H4+</text>
<text x="485.4" y="906.2">Si4H2+</text>
<text x="480.0" y="1014.7">H2*</text>
<text x="608.0" y="999.6">H3+</text>
<text x="702.0" y="1010.5">SiH3−</text>
<text x="574.3" y="1066.2">SiH4(v2.4)</text>
<text x="658.6" y="1069.0">H2+</text>
<text x="760.6" y="1070.5">Si+</text>
<text x="535.1" y="1099.6">SiH4(v1.3)</text>
<text x="457.1" y="1099.6">SiH2−</text>
<text x="325.0" y="1137.6">H2(v1</text>
<text x="312.2" y="1222.6">H2(v2</text>
<text x="485.7" y="1151.0">Si2H6(v2.4)</text>
<text x="459.4" y="1194.7">Si2H6(v1.3)</text>
<text x="535.7" y="1261.9">Si2H7+</text>
<text x="458.6" y="1310.8">H+</text>
<text x="511.4" y="1329.0">Si2H6+</text>
<text x="429.7" y="1415.8">H*</text>
<text x="698.6" y="1129.9">Si2H2+</text>
<text x="672.9" y="1174.7">SiH3+</text>
<text x="648.0" y="1194.7">Si3H6+</text>
<text x="722.9" y="1184.7">SiH+</text>
<text x="752.9" y="1181.9">SiH4</text>
<text x="774.5" y="1162.4">SiH2+</text>
<text x="821.4" y="1160.5">Si2H+</text>
<text x="827.1" y="1193.3">Si2H3+</text>
<text x="830.0" y="1217.6">Si4H8+</text>
<text x="890.0" y="1234.7">Si2H6*</text>
<text x="935.7" y="1186.7">Si5H10+</text>
<text x="600.0" y="1214.7">e</text>
<text x="676.6" y="1211.9">H2</text>
<text x="595.0" y="1245.9">Si2H5+</text>
<text x="648.3" y="1266.6">M</text>
<text x="710.0" y="1240.5">Si2H6</text>
<text x="758.6" y="1236.2">Si2H4+</text>
<text x="614.3" y="1294.7">Si</text>
<text x="807.1" y="1293.3">SiH3</text>
<text x="860.7" y="1294.7">Si3H8</text>
<text x="910.0" y="1307.6">Si4H10</text>
<text x="744.3" y="1316.2">SiH2</text>
<text x="725.0" y="1338.3">Si2H4</text>
<text x="820.0" y="1340.5">SiH</text>
<text x="894.3" y="1340.1">Si5H12</text>
<text x="777.1" y="1357.6">H</text>
<text x="601.7" y="1347.1">Si2H6**</text>
<text x="750.0" y="1377.6">Si2H5</text>
<text x="832.9" y="1389.0">Si3H6</text>
<text x="690.0" y="1403.0">Si2H3</text>
<text x="742.9" y="1401.9">Si2H2</text>
<text x="804.3" y="1409.0">Si4H8</text>
<text x="855.7" y="1412.7">Si5H10</text>
<text x="940.3" y="1411.4">Si3H7</text>
<text x="1009.5" y="1384.7">Si4H9</text>
<text x="1055.1" y="1344.7">Si5H11</text>
<text x="725.7" y="1491.9">Si3H4</text>
<text x="762.9" y="1501.9">Si4H6</text>
<text x="805.7" y="1486.2">Si5H8</text>
<text x="843.3" y="1559.8">Si3H5</text>
<text x="944.2" y="1550.1">Si4H7</text>
<text x="696.9" y="1584.4">Si2H</text>
<text x="742.3" y="1644.4">Si5H6</text>
<text x="890.0" y="1643.6">Si5H7</text>
<text x="1064.3" y="1534.8">Si5H9</text>
<text x="968.0" y="922.5">Si5H9+</text>
<text x="821.4" y="969.6">Si3H5+</text>
<text x="865.1" y="1041.9">Si4H7+</text>
<text x="973.2" y="1045.5">Si3H4+</text>
<text x="1091.9" y="1060.8">Si4H6+</text>
</g>
</svg>
</body></html>
